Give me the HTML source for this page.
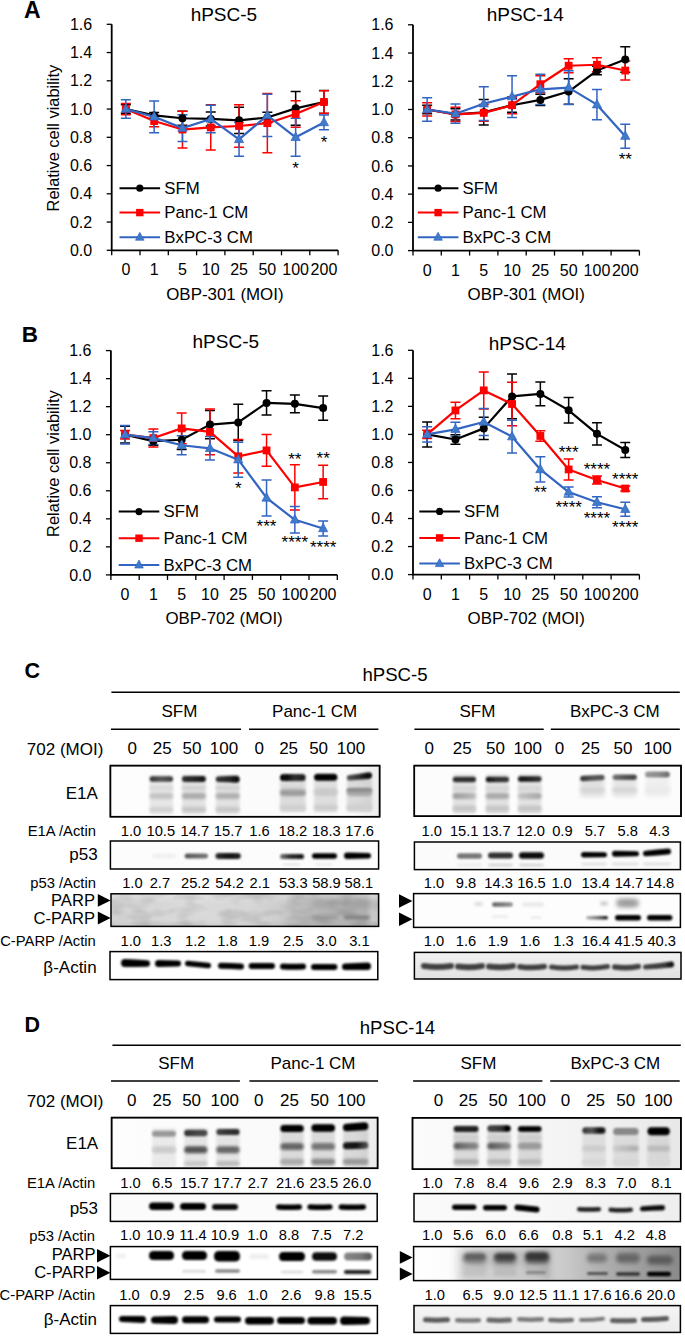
<!DOCTYPE html>
<html><head><meta charset="utf-8"><style>
html,body{margin:0;padding:0;background:#fff;}
svg{display:block;}
</style></head><body>
<svg width="685" height="1336" viewBox="0 0 685 1336" font-family="'Liberation Sans', sans-serif">
<defs><filter id="b5" x="-30%" y="-100%" width="160%" height="300%"><feGaussianBlur stdDeviation="0.5"/></filter><filter id="b6" x="-30%" y="-100%" width="160%" height="300%"><feGaussianBlur stdDeviation="0.6"/></filter><filter id="b7" x="-30%" y="-100%" width="160%" height="300%"><feGaussianBlur stdDeviation="0.7"/></filter><filter id="b8" x="-30%" y="-100%" width="160%" height="300%"><feGaussianBlur stdDeviation="0.8"/></filter><filter id="b9" x="-30%" y="-100%" width="160%" height="300%"><feGaussianBlur stdDeviation="0.9"/></filter><filter id="b10" x="-30%" y="-100%" width="160%" height="300%"><feGaussianBlur stdDeviation="1.0"/></filter><filter id="b11" x="-30%" y="-100%" width="160%" height="300%"><feGaussianBlur stdDeviation="1.1"/></filter><filter id="b12" x="-30%" y="-100%" width="160%" height="300%"><feGaussianBlur stdDeviation="1.2"/></filter><filter id="b13" x="-30%" y="-100%" width="160%" height="300%"><feGaussianBlur stdDeviation="1.3"/></filter><filter id="b14" x="-30%" y="-100%" width="160%" height="300%"><feGaussianBlur stdDeviation="1.4"/></filter><filter id="b15" x="-30%" y="-100%" width="160%" height="300%"><feGaussianBlur stdDeviation="1.5"/></filter><filter id="b16" x="-30%" y="-100%" width="160%" height="300%"><feGaussianBlur stdDeviation="1.6"/></filter><filter id="b17" x="-30%" y="-100%" width="160%" height="300%"><feGaussianBlur stdDeviation="1.7"/></filter><filter id="b18" x="-30%" y="-100%" width="160%" height="300%"><feGaussianBlur stdDeviation="1.8"/></filter><filter id="b19" x="-30%" y="-100%" width="160%" height="300%"><feGaussianBlur stdDeviation="1.9"/></filter><filter id="b20" x="-30%" y="-100%" width="160%" height="300%"><feGaussianBlur stdDeviation="2.0"/></filter><filter id="b21" x="-30%" y="-100%" width="160%" height="300%"><feGaussianBlur stdDeviation="2.1"/></filter><filter id="b22" x="-30%" y="-100%" width="160%" height="300%"><feGaussianBlur stdDeviation="2.2"/></filter><filter id="b23" x="-30%" y="-100%" width="160%" height="300%"><feGaussianBlur stdDeviation="2.3"/></filter><filter id="b24" x="-30%" y="-100%" width="160%" height="300%"><feGaussianBlur stdDeviation="2.4"/></filter><filter id="b25" x="-30%" y="-100%" width="160%" height="300%"><feGaussianBlur stdDeviation="2.5"/></filter><filter id="b26" x="-30%" y="-100%" width="160%" height="300%"><feGaussianBlur stdDeviation="2.6"/></filter><filter id="b27" x="-30%" y="-100%" width="160%" height="300%"><feGaussianBlur stdDeviation="2.7"/></filter><filter id="b28" x="-30%" y="-100%" width="160%" height="300%"><feGaussianBlur stdDeviation="2.8"/></filter><filter id="b29" x="-30%" y="-100%" width="160%" height="300%"><feGaussianBlur stdDeviation="2.9"/></filter><filter id="b30" x="-30%" y="-100%" width="160%" height="300%"><feGaussianBlur stdDeviation="3.0"/></filter>
<filter id="noiseA" x="0" y="0" width="1" height="1" filterUnits="objectBoundingBox"><feTurbulence type="fractalNoise" baseFrequency="0.045 0.09" numOctaves="2" seed="7" result="t"/><feColorMatrix in="t" type="matrix" values="0 0 0 0 0  0 0 0 0 0  0 0 0 0 0  0.28 0 0 0 -0.11"/></filter>
<linearGradient id="gParpC" x1="0" x2="1" y1="0" y2="0">
 <stop offset="0" stop-color="#d2d2d2"/><stop offset="0.3" stop-color="#dadada"/><stop offset="0.52" stop-color="#d6d6d6"/>
 <stop offset="0.66" stop-color="#cbcbcb"/><stop offset="0.85" stop-color="#c0c0c0"/><stop offset="0.95" stop-color="#bdbdbd"/><stop offset="0.975" stop-color="#d6d6d6"/><stop offset="1" stop-color="#cccccc"/>
</linearGradient>
<linearGradient id="gParpCv" x1="0" x2="0" y1="0" y2="1">
 <stop offset="0" stop-color="#fff" stop-opacity="0.25"/><stop offset="0.3" stop-color="#fff" stop-opacity="0"/><stop offset="0.8" stop-color="#000" stop-opacity="0"/><stop offset="1" stop-color="#000" stop-opacity="0.05"/>
</linearGradient>
<linearGradient id="gActC" x1="0" x2="0" y1="0" y2="1">
 <stop offset="0" stop-color="#f2f2f2"/><stop offset="1" stop-color="#e2e2e2"/>
</linearGradient>
<linearGradient id="gActD" x1="0" x2="0" y1="0" y2="1">
 <stop offset="0" stop-color="#f4f4f4"/><stop offset="1" stop-color="#ececec"/>
</linearGradient>
<linearGradient id="gP53D" x1="0" x2="1" y1="0" y2="0">
 <stop offset="0" stop-color="#fafafa"/><stop offset="0.5" stop-color="#f7f7f7"/><stop offset="1" stop-color="#eeeeee"/>
</linearGradient>
<linearGradient id="gE1ACL" x1="0" x2="1" y1="0" y2="0">
 <stop offset="0" stop-color="#fdfdfd"/><stop offset="0.9" stop-color="#fafafa"/><stop offset="1" stop-color="#ececec"/>
</linearGradient>
<linearGradient id="gE1ADL" x1="0" x2="1" y1="0" y2="0">
 <stop offset="0" stop-color="#fdfdfd"/><stop offset="0.9" stop-color="#f8f8f8"/><stop offset="1" stop-color="#eaeaea"/>
</linearGradient>
<linearGradient id="gE1AD" x1="0" x2="1" y1="0" y2="0">
 <stop offset="0" stop-color="#fbfbfb"/><stop offset="0.55" stop-color="#f4f4f4"/><stop offset="1" stop-color="#e8e8e8"/>
</linearGradient>
<linearGradient id="gParpD" x1="0" x2="1" y1="0" y2="0">
 <stop offset="0" stop-color="#ffffff"/><stop offset="0.13" stop-color="#fcfcfc"/><stop offset="0.2" stop-color="#e6e6e6"/>
 <stop offset="0.45" stop-color="#dedede"/><stop offset="0.5" stop-color="#d2d2d2"/><stop offset="0.58" stop-color="#c8c8c8"/>
 <stop offset="0.7" stop-color="#b0b0b0"/><stop offset="0.85" stop-color="#9e9e9e"/><stop offset="1" stop-color="#8a8a8a"/>
</linearGradient>
<clipPath id="cE1ACL"><rect x="111.00" y="766.30" width="268.00" height="49.70"/></clipPath><linearGradient id="g1" x1="0" x2="1" y1="0" y2="0"><stop offset="0" stop-color="#333"/><stop offset="0.5" stop-color="#555"/><stop offset="1" stop-color="#3a3a3a"/></linearGradient><linearGradient id="g2" x1="0" x2="1" y1="0" y2="0"><stop offset="0" stop-color="#333"/><stop offset="0.6" stop-color="#222"/><stop offset="1" stop-color="#111"/></linearGradient><linearGradient id="g3" x1="0" x2="1" y1="0" y2="0"><stop offset="0" stop-color="#333"/><stop offset="0.6" stop-color="#222"/><stop offset="1" stop-color="#000"/></linearGradient><linearGradient id="g4" x1="0" x2="1" y1="0" y2="0"><stop offset="0" stop-color="#000"/><stop offset="0.3" stop-color="#111"/><stop offset="0.6" stop-color="#333"/><stop offset="1" stop-color="#1a1a1a"/></linearGradient><linearGradient id="g5" x1="0" x2="1" y1="0" y2="0"><stop offset="0" stop-color="#555"/><stop offset="0.45" stop-color="#333"/><stop offset="0.75" stop-color="#111"/><stop offset="1" stop-color="#000"/></linearGradient><clipPath id="cE1ACR"><rect x="415.00" y="766.30" width="265.30" height="49.20"/></clipPath><linearGradient id="g6" x1="0" x2="1" y1="0" y2="0"><stop offset="0" stop-color="#111"/><stop offset="0.5" stop-color="#333"/><stop offset="1" stop-color="#3a3a3a"/></linearGradient><linearGradient id="g7" x1="0" x2="1" y1="0" y2="0"><stop offset="0" stop-color="#111"/><stop offset="0.5" stop-color="#222"/><stop offset="1" stop-color="#333"/></linearGradient><linearGradient id="g8" x1="0" x2="1" y1="0" y2="0"><stop offset="0" stop-color="#999"/><stop offset="1" stop-color="#bbb"/></linearGradient><linearGradient id="g9" x1="0" x2="1" y1="0" y2="0"><stop offset="0" stop-color="#c4c4c4"/><stop offset="1" stop-color="#a4a4a4"/></linearGradient><linearGradient id="g10" x1="0" x2="1" y1="0" y2="0"><stop offset="0" stop-color="#333"/><stop offset="0.5" stop-color="#555"/><stop offset="1" stop-color="#555"/></linearGradient><linearGradient id="g11" x1="0" x2="1" y1="0" y2="0"><stop offset="0" stop-color="#777"/><stop offset="0.5" stop-color="#555"/><stop offset="1" stop-color="#444"/></linearGradient><linearGradient id="g12" x1="0" x2="1" y1="0" y2="0"><stop offset="0" stop-color="#999"/><stop offset="0.6" stop-color="#888"/><stop offset="1" stop-color="#666"/></linearGradient><linearGradient id="g13" x1="0" x2="1" y1="0" y2="0"><stop offset="0" stop-color="#555"/><stop offset="0.5" stop-color="#666"/><stop offset="1" stop-color="#777"/></linearGradient><linearGradient id="g14" x1="0" x2="1" y1="0" y2="0"><stop offset="0" stop-color="#333"/><stop offset="0.5" stop-color="#111"/><stop offset="1" stop-color="#222"/></linearGradient><linearGradient id="g15" x1="0" x2="1" y1="0" y2="0"><stop offset="0" stop-color="#777"/><stop offset="0.4" stop-color="#333"/><stop offset="1" stop-color="#111"/></linearGradient><linearGradient id="g16" x1="0" x2="1" y1="0" y2="0"><stop offset="0" stop-color="#666"/><stop offset="0.5" stop-color="#777"/><stop offset="1" stop-color="#999"/></linearGradient><linearGradient id="g17" x1="0" x2="1" y1="0" y2="0"><stop offset="0" stop-color="#aaa"/><stop offset="0.5" stop-color="#999"/><stop offset="1" stop-color="#aaa"/></linearGradient><linearGradient id="g18" x1="0" x2="1" y1="0" y2="0"><stop offset="0" stop-color="#bbb"/><stop offset="0.5" stop-color="#777"/><stop offset="1" stop-color="#111"/></linearGradient><linearGradient id="g19" x1="0" x2="1" y1="0" y2="0"><stop offset="0" stop-color="#444"/><stop offset="0.7" stop-color="#3a3a3a"/><stop offset="1" stop-color="#000"/></linearGradient><clipPath id="cE1ADL"><rect x="112.30" y="1118.30" width="264.60" height="49.30"/></clipPath><linearGradient id="g20" x1="0" x2="1" y1="0" y2="0"><stop offset="0" stop-color="#333"/><stop offset="0.5" stop-color="#444"/><stop offset="1" stop-color="#4a4a4a"/></linearGradient><linearGradient id="g21" x1="0" x2="1" y1="0" y2="0"><stop offset="0" stop-color="#444"/><stop offset="0.5" stop-color="#333"/><stop offset="1" stop-color="#2a2a2a"/></linearGradient><linearGradient id="g22" x1="0" x2="1" y1="0" y2="0"><stop offset="0" stop-color="#111"/><stop offset="0.55" stop-color="#1a1a1a"/><stop offset="1" stop-color="#555"/></linearGradient><clipPath id="cE1ADR"><rect x="413.20" y="1118.50" width="267.00" height="50.00"/></clipPath><linearGradient id="g23" x1="0" x2="1" y1="0" y2="0"><stop offset="0" stop-color="#444"/><stop offset="0.6" stop-color="#333"/><stop offset="0.85" stop-color="#000"/><stop offset="1" stop-color="#000"/></linearGradient><linearGradient id="g24" x1="0" x2="1" y1="0" y2="0"><stop offset="0" stop-color="#555"/><stop offset="0.5" stop-color="#777"/><stop offset="1" stop-color="#888"/></linearGradient><linearGradient id="g25" x1="0" x2="1" y1="0" y2="0"><stop offset="0" stop-color="#555"/><stop offset="1" stop-color="#8a8a8a"/></linearGradient><linearGradient id="g26" x1="0" x2="1" y1="0" y2="0"><stop offset="0" stop-color="#333"/><stop offset="0.4" stop-color="#555"/><stop offset="0.75" stop-color="#111"/><stop offset="1" stop-color="#222"/></linearGradient><linearGradient id="g27" x1="0" x2="1" y1="0" y2="0"><stop offset="0" stop-color="#ccc"/><stop offset="1" stop-color="#aaa"/></linearGradient><linearGradient id="g28" x1="0" x2="1" y1="0" y2="0"><stop offset="0" stop-color="#888"/><stop offset="0.6" stop-color="#777"/><stop offset="1" stop-color="#555"/></linearGradient><clipPath id="cParpDR"><rect x="414.30" y="1247.30" width="265.40" height="32.60"/></clipPath></defs>
<rect width="685" height="1336" fill="#fff"/>
<text x="24.00" y="18.20" font-size="23" text-anchor="start" font-weight="bold" fill="#000" >A</text>
<path d="M111.70 24.30 V250.30 H338.10" fill="none" stroke="#000" stroke-width="1.8"/>
<line x1="106.70" y1="250.30" x2="111.70" y2="250.30" stroke="#000" stroke-width="1.3"/>
<text x="92.20" y="255.90" font-size="16" text-anchor="end" fill="#000" >0.0</text>
<line x1="106.70" y1="222.05" x2="111.70" y2="222.05" stroke="#000" stroke-width="1.3"/>
<text x="92.20" y="227.65" font-size="16" text-anchor="end" fill="#000" >0.2</text>
<line x1="106.70" y1="193.80" x2="111.70" y2="193.80" stroke="#000" stroke-width="1.3"/>
<text x="92.20" y="199.40" font-size="16" text-anchor="end" fill="#000" >0.4</text>
<line x1="106.70" y1="165.55" x2="111.70" y2="165.55" stroke="#000" stroke-width="1.3"/>
<text x="92.20" y="171.15" font-size="16" text-anchor="end" fill="#000" >0.6</text>
<line x1="106.70" y1="137.30" x2="111.70" y2="137.30" stroke="#000" stroke-width="1.3"/>
<text x="92.20" y="142.90" font-size="16" text-anchor="end" fill="#000" >0.8</text>
<line x1="106.70" y1="109.05" x2="111.70" y2="109.05" stroke="#000" stroke-width="1.3"/>
<text x="92.20" y="114.65" font-size="16" text-anchor="end" fill="#000" >1.0</text>
<line x1="106.70" y1="80.80" x2="111.70" y2="80.80" stroke="#000" stroke-width="1.3"/>
<text x="92.20" y="86.40" font-size="16" text-anchor="end" fill="#000" >1.2</text>
<line x1="106.70" y1="52.55" x2="111.70" y2="52.55" stroke="#000" stroke-width="1.3"/>
<text x="92.20" y="58.15" font-size="16" text-anchor="end" fill="#000" >1.4</text>
<line x1="106.70" y1="24.30" x2="111.70" y2="24.30" stroke="#000" stroke-width="1.3"/>
<text x="92.20" y="29.90" font-size="16" text-anchor="end" fill="#000" >1.6</text>
<line x1="111.70" y1="250.30" x2="111.70" y2="255.30" stroke="#000" stroke-width="1.3"/>
<line x1="140.00" y1="250.30" x2="140.00" y2="255.30" stroke="#000" stroke-width="1.3"/>
<line x1="168.30" y1="250.30" x2="168.30" y2="255.30" stroke="#000" stroke-width="1.3"/>
<line x1="196.60" y1="250.30" x2="196.60" y2="255.30" stroke="#000" stroke-width="1.3"/>
<line x1="224.90" y1="250.30" x2="224.90" y2="255.30" stroke="#000" stroke-width="1.3"/>
<line x1="253.20" y1="250.30" x2="253.20" y2="255.30" stroke="#000" stroke-width="1.3"/>
<line x1="281.50" y1="250.30" x2="281.50" y2="255.30" stroke="#000" stroke-width="1.3"/>
<line x1="309.80" y1="250.30" x2="309.80" y2="255.30" stroke="#000" stroke-width="1.3"/>
<line x1="338.10" y1="250.30" x2="338.10" y2="255.30" stroke="#000" stroke-width="1.3"/>
<text x="125.85" y="275.30" font-size="16" text-anchor="middle" fill="#000" >0</text>
<text x="154.15" y="275.30" font-size="16" text-anchor="middle" fill="#000" >1</text>
<text x="182.45" y="275.30" font-size="16" text-anchor="middle" fill="#000" >5</text>
<text x="210.75" y="275.30" font-size="16" text-anchor="middle" fill="#000" >10</text>
<text x="239.05" y="275.30" font-size="16" text-anchor="middle" fill="#000" >25</text>
<text x="267.35" y="275.30" font-size="16" text-anchor="middle" fill="#000" >50</text>
<text x="295.65" y="275.30" font-size="16" text-anchor="middle" fill="#000" >100</text>
<text x="323.95" y="275.30" font-size="16" text-anchor="middle" fill="#000" >200</text>
<text x="224.90" y="299.60" font-size="16.9" text-anchor="middle" fill="#000" >OBP-301 (MOI)</text>
<text x="223.90" y="21.00" font-size="19" text-anchor="middle" fill="#000" >hPSC-5</text>
<text x="0" y="0" font-size="16.4" text-anchor="middle" transform="translate(58.60,138.10) rotate(-90)">Relative cell viability</text>
<path d="M125.85 104.81 V113.29 M120.85 104.81 H130.85 M120.85 113.29 H130.85" stroke="#000000" stroke-width="1.5" fill="none"/>
<path d="M154.15 112.58 V118.23 M149.15 112.58 H159.15 M149.15 118.23 H159.15" stroke="#000000" stroke-width="1.5" fill="none"/>
<path d="M182.45 111.17 V125.29 M177.45 111.17 H187.45 M177.45 125.29 H187.45" stroke="#000000" stroke-width="1.5" fill="none"/>
<path d="M210.75 111.88 V126.00 M205.75 111.88 H215.75 M205.75 126.00 H215.75" stroke="#000000" stroke-width="1.5" fill="none"/>
<path d="M239.05 107.21 V133.49 M234.05 107.21 H244.05 M234.05 133.49 H244.05" stroke="#000000" stroke-width="1.5" fill="none"/>
<path d="M267.35 112.30 V122.75 M262.35 112.30 H272.35 M262.35 122.75 H272.35" stroke="#000000" stroke-width="1.5" fill="none"/>
<path d="M295.65 91.39 V125.29 M290.65 91.39 H300.65 M290.65 125.29 H300.65" stroke="#000000" stroke-width="1.5" fill="none"/>
<path d="M323.95 90.41 V113.57 M318.95 90.41 H328.95 M318.95 113.57 H328.95" stroke="#000000" stroke-width="1.5" fill="none"/>
<path d="M125.85 103.40 V114.70 M120.85 103.40 H130.85 M120.85 114.70 H130.85" stroke="#ff0000" stroke-width="1.5" fill="none"/>
<path d="M154.15 115.41 V126.71 M149.15 115.41 H159.15 M149.15 126.71 H159.15" stroke="#ff0000" stroke-width="1.5" fill="none"/>
<path d="M182.45 111.17 V147.89 M177.45 111.17 H187.45 M177.45 147.89 H187.45" stroke="#ff0000" stroke-width="1.5" fill="none"/>
<path d="M210.75 104.81 V150.01 M205.75 104.81 H215.75 M205.75 150.01 H215.75" stroke="#ff0000" stroke-width="1.5" fill="none"/>
<path d="M239.05 104.81 V147.19 M234.05 104.81 H244.05 M234.05 147.19 H244.05" stroke="#ff0000" stroke-width="1.5" fill="none"/>
<path d="M267.35 93.51 V152.84 M262.35 93.51 H272.35 M262.35 152.84 H272.35" stroke="#ff0000" stroke-width="1.5" fill="none"/>
<path d="M295.65 100.72 V127.27 M290.65 100.72 H300.65 M290.65 127.27 H300.65" stroke="#ff0000" stroke-width="1.5" fill="none"/>
<path d="M323.95 90.69 V113.29 M318.95 90.69 H328.95 M318.95 113.29 H328.95" stroke="#ff0000" stroke-width="1.5" fill="none"/>
<path d="M125.85 99.73 V118.37 M120.85 99.73 H130.85 M120.85 118.37 H130.85" stroke="#3264c2" stroke-width="1.5" fill="none"/>
<path d="M154.15 101.00 V132.64 M149.15 101.00 H159.15 M149.15 132.64 H159.15" stroke="#3264c2" stroke-width="1.5" fill="none"/>
<path d="M182.45 114.70 V141.54 M177.45 114.70 H187.45 M177.45 141.54 H187.45" stroke="#3264c2" stroke-width="1.5" fill="none"/>
<path d="M210.75 105.24 V132.64 M205.75 105.24 H215.75 M205.75 132.64 H215.75" stroke="#3264c2" stroke-width="1.5" fill="none"/>
<path d="M239.05 122.47 V156.37 M234.05 122.47 H244.05 M234.05 156.37 H244.05" stroke="#3264c2" stroke-width="1.5" fill="none"/>
<path d="M267.35 94.22 V136.59 M262.35 94.22 H272.35 M262.35 136.59 H272.35" stroke="#3264c2" stroke-width="1.5" fill="none"/>
<path d="M295.65 118.23 V156.37 M290.65 118.23 H300.65 M290.65 156.37 H300.65" stroke="#3264c2" stroke-width="1.5" fill="none"/>
<path d="M323.95 115.12 V129.81 M318.95 115.12 H328.95 M318.95 129.81 H328.95" stroke="#3264c2" stroke-width="1.5" fill="none"/>
<polyline points="125.85,109.05 154.15,115.41 182.45,118.23 210.75,118.94 239.05,120.35 267.35,117.53 295.65,108.34 323.95,101.99" fill="none" stroke="#000000" stroke-width="2.2" stroke-linejoin="round"/>
<circle cx="125.85" cy="109.05" r="4.0" fill="#000"/>
<circle cx="154.15" cy="115.41" r="4.0" fill="#000"/>
<circle cx="182.45" cy="118.23" r="4.0" fill="#000"/>
<circle cx="210.75" cy="118.94" r="4.0" fill="#000"/>
<circle cx="239.05" cy="120.35" r="4.0" fill="#000"/>
<circle cx="267.35" cy="117.53" r="4.0" fill="#000"/>
<circle cx="295.65" cy="108.34" r="4.0" fill="#000"/>
<circle cx="323.95" cy="101.99" r="4.0" fill="#000"/>
<polyline points="125.85,109.05 154.15,121.06 182.45,129.53 210.75,127.41 239.05,126.00 267.35,123.18 295.65,113.99 323.95,101.99" fill="none" stroke="#ff0000" stroke-width="2.2" stroke-linejoin="round"/>
<rect x="121.95" y="105.15" width="7.8" height="7.8" fill="#ff0000"/>
<rect x="150.25" y="117.16" width="7.8" height="7.8" fill="#ff0000"/>
<rect x="178.55" y="125.63" width="7.8" height="7.8" fill="#ff0000"/>
<rect x="206.85" y="123.51" width="7.8" height="7.8" fill="#ff0000"/>
<rect x="235.15" y="122.10" width="7.8" height="7.8" fill="#ff0000"/>
<rect x="263.45" y="119.28" width="7.8" height="7.8" fill="#ff0000"/>
<rect x="291.75" y="110.09" width="7.8" height="7.8" fill="#ff0000"/>
<rect x="320.05" y="98.09" width="7.8" height="7.8" fill="#ff0000"/>
<polyline points="125.85,109.05 154.15,116.82 182.45,128.12 210.75,118.94 239.05,139.42 267.35,115.41 295.65,137.30 323.95,122.47" fill="none" stroke="#3264c2" stroke-width="2.2" stroke-linejoin="round"/>
<path d="M125.85 103.80 L130.45 112.27 L121.25 112.27 Z" fill="#3f7bc9" stroke="#3264c2" stroke-width="0.7" stroke-linejoin="round"/>
<path d="M154.15 111.57 L158.75 120.04 L149.55 120.04 Z" fill="#3f7bc9" stroke="#3264c2" stroke-width="0.7" stroke-linejoin="round"/>
<path d="M182.45 122.87 L187.05 131.34 L177.85 131.34 Z" fill="#3f7bc9" stroke="#3264c2" stroke-width="0.7" stroke-linejoin="round"/>
<path d="M210.75 113.69 L215.35 122.15 L206.15 122.15 Z" fill="#3f7bc9" stroke="#3264c2" stroke-width="0.7" stroke-linejoin="round"/>
<path d="M239.05 134.17 L243.65 142.64 L234.45 142.64 Z" fill="#3f7bc9" stroke="#3264c2" stroke-width="0.7" stroke-linejoin="round"/>
<path d="M267.35 110.16 L271.95 118.62 L262.75 118.62 Z" fill="#3f7bc9" stroke="#3264c2" stroke-width="0.7" stroke-linejoin="round"/>
<path d="M295.65 132.05 L300.25 140.52 L291.05 140.52 Z" fill="#3f7bc9" stroke="#3264c2" stroke-width="0.7" stroke-linejoin="round"/>
<path d="M323.95 117.22 L328.55 125.69 L319.35 125.69 Z" fill="#3f7bc9" stroke="#3264c2" stroke-width="0.7" stroke-linejoin="round"/>
<line x1="119.50" y1="188.20" x2="160.10" y2="188.20" stroke="#000000" stroke-width="2"/>
<circle cx="139.80" cy="188.20" r="3.6" fill="#000"/>
<text x="164.30" y="193.80" font-size="16.8" text-anchor="start" fill="#000" >SFM</text>
<line x1="119.50" y1="212.60" x2="160.10" y2="212.60" stroke="#ff0000" stroke-width="2"/>
<rect x="136.10" y="208.90" width="7.4" height="7.4" fill="#ff0000"/>
<text x="164.30" y="218.20" font-size="16.8" text-anchor="start" fill="#000" >Panc-1 CM</text>
<line x1="119.50" y1="237.20" x2="160.10" y2="237.20" stroke="#3264c2" stroke-width="2"/>
<path d="M139.80 232.29 L144.10 240.21 L135.50 240.21 Z" fill="#3f7bc9" stroke="#3264c2" stroke-width="0.7" stroke-linejoin="round"/>
<text x="164.30" y="242.80" font-size="16.8" text-anchor="start" fill="#000" >BxPC-3 CM</text>
<text x="295.65" y="173.70" font-size="17" text-anchor="middle" fill="#000" >*</text>
<text x="323.95" y="147.80" font-size="17" text-anchor="middle" fill="#000" >*</text>
<path d="M413.00 24.80 V250.60 H639.40" fill="none" stroke="#000" stroke-width="1.8"/>
<line x1="408.00" y1="250.60" x2="413.00" y2="250.60" stroke="#000" stroke-width="1.3"/>
<text x="393.50" y="256.20" font-size="16" text-anchor="end" fill="#000" >0.0</text>
<line x1="408.00" y1="222.38" x2="413.00" y2="222.38" stroke="#000" stroke-width="1.3"/>
<text x="393.50" y="227.97" font-size="16" text-anchor="end" fill="#000" >0.2</text>
<line x1="408.00" y1="194.15" x2="413.00" y2="194.15" stroke="#000" stroke-width="1.3"/>
<text x="393.50" y="199.75" font-size="16" text-anchor="end" fill="#000" >0.4</text>
<line x1="408.00" y1="165.93" x2="413.00" y2="165.93" stroke="#000" stroke-width="1.3"/>
<text x="393.50" y="171.53" font-size="16" text-anchor="end" fill="#000" >0.6</text>
<line x1="408.00" y1="137.70" x2="413.00" y2="137.70" stroke="#000" stroke-width="1.3"/>
<text x="393.50" y="143.30" font-size="16" text-anchor="end" fill="#000" >0.8</text>
<line x1="408.00" y1="109.48" x2="413.00" y2="109.48" stroke="#000" stroke-width="1.3"/>
<text x="393.50" y="115.08" font-size="16" text-anchor="end" fill="#000" >1.0</text>
<line x1="408.00" y1="81.25" x2="413.00" y2="81.25" stroke="#000" stroke-width="1.3"/>
<text x="393.50" y="86.85" font-size="16" text-anchor="end" fill="#000" >1.2</text>
<line x1="408.00" y1="53.03" x2="413.00" y2="53.03" stroke="#000" stroke-width="1.3"/>
<text x="393.50" y="58.63" font-size="16" text-anchor="end" fill="#000" >1.4</text>
<line x1="408.00" y1="24.80" x2="413.00" y2="24.80" stroke="#000" stroke-width="1.3"/>
<text x="393.50" y="30.40" font-size="16" text-anchor="end" fill="#000" >1.6</text>
<line x1="413.00" y1="250.60" x2="413.00" y2="255.60" stroke="#000" stroke-width="1.3"/>
<line x1="441.30" y1="250.60" x2="441.30" y2="255.60" stroke="#000" stroke-width="1.3"/>
<line x1="469.60" y1="250.60" x2="469.60" y2="255.60" stroke="#000" stroke-width="1.3"/>
<line x1="497.90" y1="250.60" x2="497.90" y2="255.60" stroke="#000" stroke-width="1.3"/>
<line x1="526.20" y1="250.60" x2="526.20" y2="255.60" stroke="#000" stroke-width="1.3"/>
<line x1="554.50" y1="250.60" x2="554.50" y2="255.60" stroke="#000" stroke-width="1.3"/>
<line x1="582.80" y1="250.60" x2="582.80" y2="255.60" stroke="#000" stroke-width="1.3"/>
<line x1="611.10" y1="250.60" x2="611.10" y2="255.60" stroke="#000" stroke-width="1.3"/>
<line x1="639.40" y1="250.60" x2="639.40" y2="255.60" stroke="#000" stroke-width="1.3"/>
<text x="427.15" y="275.60" font-size="16" text-anchor="middle" fill="#000" >0</text>
<text x="455.45" y="275.60" font-size="16" text-anchor="middle" fill="#000" >1</text>
<text x="483.75" y="275.60" font-size="16" text-anchor="middle" fill="#000" >5</text>
<text x="512.05" y="275.60" font-size="16" text-anchor="middle" fill="#000" >10</text>
<text x="540.35" y="275.60" font-size="16" text-anchor="middle" fill="#000" >25</text>
<text x="568.65" y="275.60" font-size="16" text-anchor="middle" fill="#000" >50</text>
<text x="596.95" y="275.60" font-size="16" text-anchor="middle" fill="#000" >100</text>
<text x="625.25" y="275.60" font-size="16" text-anchor="middle" fill="#000" >200</text>
<text x="526.20" y="299.90" font-size="16.9" text-anchor="middle" fill="#000" >OBP-301 (MOI)</text>
<text x="525.20" y="20.80" font-size="19" text-anchor="middle" fill="#000" >hPSC-14</text>
<path d="M427.15 105.24 V113.71 M422.15 105.24 H432.15 M422.15 113.71 H432.15" stroke="#000000" stroke-width="1.5" fill="none"/>
<path d="M455.45 108.77 V120.06 M450.45 108.77 H460.45 M450.45 120.06 H460.45" stroke="#000000" stroke-width="1.5" fill="none"/>
<path d="M483.75 99.60 V125.00 M478.75 99.60 H488.75 M478.75 125.00 H488.75" stroke="#000000" stroke-width="1.5" fill="none"/>
<path d="M512.05 98.19 V112.30 M507.05 98.19 H517.05 M507.05 112.30 H517.05" stroke="#000000" stroke-width="1.5" fill="none"/>
<path d="M540.35 94.23 V105.52 M535.35 94.23 H545.35 M535.35 105.52 H545.35" stroke="#000000" stroke-width="1.5" fill="none"/>
<path d="M568.65 78.85 V104.25 M563.65 78.85 H573.65 M563.65 104.25 H573.65" stroke="#000000" stroke-width="1.5" fill="none"/>
<path d="M596.95 66.29 V74.76 M591.95 66.29 H601.95 M591.95 74.76 H601.95" stroke="#000000" stroke-width="1.5" fill="none"/>
<path d="M625.25 46.82 V72.22 M620.25 46.82 H630.25 M620.25 72.22 H630.25" stroke="#000000" stroke-width="1.5" fill="none"/>
<path d="M427.15 102.84 V116.11 M422.15 102.84 H432.15 M422.15 116.11 H432.15" stroke="#ff0000" stroke-width="1.5" fill="none"/>
<path d="M455.45 107.36 V121.47 M450.45 107.36 H460.45 M450.45 121.47 H460.45" stroke="#ff0000" stroke-width="1.5" fill="none"/>
<path d="M483.75 104.39 V121.33 M478.75 104.39 H488.75 M478.75 121.33 H488.75" stroke="#ff0000" stroke-width="1.5" fill="none"/>
<path d="M512.05 96.77 V113.71 M507.05 96.77 H517.05 M507.05 113.71 H517.05" stroke="#ff0000" stroke-width="1.5" fill="none"/>
<path d="M540.35 75.75 V92.68 M535.35 75.75 H545.35 M535.35 92.68 H545.35" stroke="#ff0000" stroke-width="1.5" fill="none"/>
<path d="M568.65 58.67 V72.78 M563.65 58.67 H573.65 M563.65 72.78 H573.65" stroke="#ff0000" stroke-width="1.5" fill="none"/>
<path d="M596.95 57.68 V71.79 M591.95 57.68 H601.95 M591.95 71.79 H601.95" stroke="#ff0000" stroke-width="1.5" fill="none"/>
<path d="M625.25 60.93 V80.12 M620.25 60.93 H630.25 M620.25 80.12 H630.25" stroke="#ff0000" stroke-width="1.5" fill="none"/>
<path d="M427.15 97.76 V121.19 M422.15 97.76 H432.15 M422.15 121.19 H432.15" stroke="#3264c2" stroke-width="1.5" fill="none"/>
<path d="M455.45 104.11 V123.31 M450.45 104.11 H460.45 M450.45 123.31 H460.45" stroke="#3264c2" stroke-width="1.5" fill="none"/>
<path d="M483.75 86.75 V120.62 M478.75 86.75 H488.75 M478.75 120.62 H488.75" stroke="#3264c2" stroke-width="1.5" fill="none"/>
<path d="M512.05 75.75 V117.52 M507.05 75.75 H517.05 M507.05 117.52 H517.05" stroke="#3264c2" stroke-width="1.5" fill="none"/>
<path d="M540.35 74.19 V104.39 M535.35 74.19 H545.35 M535.35 104.39 H545.35" stroke="#3264c2" stroke-width="1.5" fill="none"/>
<path d="M568.65 70.67 V104.54 M563.65 70.67 H573.65 M563.65 104.54 H573.65" stroke="#3264c2" stroke-width="1.5" fill="none"/>
<path d="M596.95 89.58 V119.78 M591.95 89.58 H601.95 M591.95 119.78 H601.95" stroke="#3264c2" stroke-width="1.5" fill="none"/>
<path d="M625.25 124.15 V148.14 M620.25 124.15 H630.25 M620.25 148.14 H630.25" stroke="#3264c2" stroke-width="1.5" fill="none"/>
<polyline points="427.15,109.48 455.45,114.41 483.75,112.30 512.05,105.24 540.35,99.88 568.65,91.55 596.95,70.52 625.25,59.52" fill="none" stroke="#000000" stroke-width="2.2" stroke-linejoin="round"/>
<circle cx="427.15" cy="109.48" r="4.0" fill="#000"/>
<circle cx="455.45" cy="114.41" r="4.0" fill="#000"/>
<circle cx="483.75" cy="112.30" r="4.0" fill="#000"/>
<circle cx="512.05" cy="105.24" r="4.0" fill="#000"/>
<circle cx="540.35" cy="99.88" r="4.0" fill="#000"/>
<circle cx="568.65" cy="91.55" r="4.0" fill="#000"/>
<circle cx="596.95" cy="70.52" r="4.0" fill="#000"/>
<circle cx="625.25" cy="59.52" r="4.0" fill="#000"/>
<polyline points="427.15,109.48 455.45,114.41 483.75,112.86 512.05,105.24 540.35,84.21 568.65,65.73 596.95,64.74 625.25,70.52" fill="none" stroke="#ff0000" stroke-width="2.2" stroke-linejoin="round"/>
<rect x="423.25" y="105.58" width="7.8" height="7.8" fill="#ff0000"/>
<rect x="451.55" y="110.51" width="7.8" height="7.8" fill="#ff0000"/>
<rect x="479.85" y="108.96" width="7.8" height="7.8" fill="#ff0000"/>
<rect x="508.15" y="101.34" width="7.8" height="7.8" fill="#ff0000"/>
<rect x="536.45" y="80.31" width="7.8" height="7.8" fill="#ff0000"/>
<rect x="564.75" y="61.83" width="7.8" height="7.8" fill="#ff0000"/>
<rect x="593.05" y="60.84" width="7.8" height="7.8" fill="#ff0000"/>
<rect x="621.35" y="66.62" width="7.8" height="7.8" fill="#ff0000"/>
<polyline points="427.15,109.48 455.45,113.71 483.75,103.69 512.05,96.63 540.35,89.29 568.65,87.60 596.95,104.68 625.25,136.15" fill="none" stroke="#3264c2" stroke-width="2.2" stroke-linejoin="round"/>
<path d="M427.15 104.23 L431.75 112.69 L422.55 112.69 Z" fill="#3f7bc9" stroke="#3264c2" stroke-width="0.7" stroke-linejoin="round"/>
<path d="M455.45 108.46 L460.05 116.93 L450.85 116.93 Z" fill="#3f7bc9" stroke="#3264c2" stroke-width="0.7" stroke-linejoin="round"/>
<path d="M483.75 98.44 L488.35 106.91 L479.15 106.91 Z" fill="#3f7bc9" stroke="#3264c2" stroke-width="0.7" stroke-linejoin="round"/>
<path d="M512.05 91.38 L516.65 99.85 L507.45 99.85 Z" fill="#3f7bc9" stroke="#3264c2" stroke-width="0.7" stroke-linejoin="round"/>
<path d="M540.35 84.05 L544.95 92.51 L535.75 92.51 Z" fill="#3f7bc9" stroke="#3264c2" stroke-width="0.7" stroke-linejoin="round"/>
<path d="M568.65 82.35 L573.25 90.82 L564.05 90.82 Z" fill="#3f7bc9" stroke="#3264c2" stroke-width="0.7" stroke-linejoin="round"/>
<path d="M596.95 99.43 L601.55 107.89 L592.35 107.89 Z" fill="#3f7bc9" stroke="#3264c2" stroke-width="0.7" stroke-linejoin="round"/>
<path d="M625.25 130.90 L629.85 139.36 L620.65 139.36 Z" fill="#3f7bc9" stroke="#3264c2" stroke-width="0.7" stroke-linejoin="round"/>
<line x1="417.80" y1="188.20" x2="458.40" y2="188.20" stroke="#000000" stroke-width="2"/>
<circle cx="438.10" cy="188.20" r="3.6" fill="#000"/>
<text x="462.60" y="193.80" font-size="16.8" text-anchor="start" fill="#000" >SFM</text>
<line x1="417.80" y1="212.60" x2="458.40" y2="212.60" stroke="#ff0000" stroke-width="2"/>
<rect x="434.40" y="208.90" width="7.4" height="7.4" fill="#ff0000"/>
<text x="462.60" y="218.20" font-size="16.8" text-anchor="start" fill="#000" >Panc-1 CM</text>
<line x1="417.80" y1="237.20" x2="458.40" y2="237.20" stroke="#3264c2" stroke-width="2"/>
<path d="M438.10 232.29 L442.40 240.21 L433.80 240.21 Z" fill="#3f7bc9" stroke="#3264c2" stroke-width="0.7" stroke-linejoin="round"/>
<text x="462.60" y="242.80" font-size="16.8" text-anchor="start" fill="#000" >BxPC-3 CM</text>
<text x="625.25" y="164.50" font-size="17" text-anchor="middle" fill="#000" >**</text>
<text x="21.80" y="342.20" font-size="22.5" text-anchor="start" font-weight="bold" fill="#000" >B</text>
<path d="M110.90 350.60 V574.90 H337.30" fill="none" stroke="#000" stroke-width="1.8"/>
<line x1="105.90" y1="574.90" x2="110.90" y2="574.90" stroke="#000" stroke-width="1.3"/>
<text x="91.40" y="580.50" font-size="16" text-anchor="end" fill="#000" >0.0</text>
<line x1="105.90" y1="546.86" x2="110.90" y2="546.86" stroke="#000" stroke-width="1.3"/>
<text x="91.40" y="552.46" font-size="16" text-anchor="end" fill="#000" >0.2</text>
<line x1="105.90" y1="518.83" x2="110.90" y2="518.83" stroke="#000" stroke-width="1.3"/>
<text x="91.40" y="524.43" font-size="16" text-anchor="end" fill="#000" >0.4</text>
<line x1="105.90" y1="490.79" x2="110.90" y2="490.79" stroke="#000" stroke-width="1.3"/>
<text x="91.40" y="496.39" font-size="16" text-anchor="end" fill="#000" >0.6</text>
<line x1="105.90" y1="462.75" x2="110.90" y2="462.75" stroke="#000" stroke-width="1.3"/>
<text x="91.40" y="468.35" font-size="16" text-anchor="end" fill="#000" >0.8</text>
<line x1="105.90" y1="434.71" x2="110.90" y2="434.71" stroke="#000" stroke-width="1.3"/>
<text x="91.40" y="440.31" font-size="16" text-anchor="end" fill="#000" >1.0</text>
<line x1="105.90" y1="406.67" x2="110.90" y2="406.67" stroke="#000" stroke-width="1.3"/>
<text x="91.40" y="412.27" font-size="16" text-anchor="end" fill="#000" >1.2</text>
<line x1="105.90" y1="378.64" x2="110.90" y2="378.64" stroke="#000" stroke-width="1.3"/>
<text x="91.40" y="384.24" font-size="16" text-anchor="end" fill="#000" >1.4</text>
<line x1="105.90" y1="350.60" x2="110.90" y2="350.60" stroke="#000" stroke-width="1.3"/>
<text x="91.40" y="356.20" font-size="16" text-anchor="end" fill="#000" >1.6</text>
<line x1="110.90" y1="574.90" x2="110.90" y2="579.90" stroke="#000" stroke-width="1.3"/>
<line x1="139.20" y1="574.90" x2="139.20" y2="579.90" stroke="#000" stroke-width="1.3"/>
<line x1="167.50" y1="574.90" x2="167.50" y2="579.90" stroke="#000" stroke-width="1.3"/>
<line x1="195.80" y1="574.90" x2="195.80" y2="579.90" stroke="#000" stroke-width="1.3"/>
<line x1="224.10" y1="574.90" x2="224.10" y2="579.90" stroke="#000" stroke-width="1.3"/>
<line x1="252.40" y1="574.90" x2="252.40" y2="579.90" stroke="#000" stroke-width="1.3"/>
<line x1="280.70" y1="574.90" x2="280.70" y2="579.90" stroke="#000" stroke-width="1.3"/>
<line x1="309.00" y1="574.90" x2="309.00" y2="579.90" stroke="#000" stroke-width="1.3"/>
<line x1="337.30" y1="574.90" x2="337.30" y2="579.90" stroke="#000" stroke-width="1.3"/>
<text x="125.05" y="599.80" font-size="16" text-anchor="middle" fill="#000" >0</text>
<text x="153.35" y="599.80" font-size="16" text-anchor="middle" fill="#000" >1</text>
<text x="181.65" y="599.80" font-size="16" text-anchor="middle" fill="#000" >5</text>
<text x="209.95" y="599.80" font-size="16" text-anchor="middle" fill="#000" >10</text>
<text x="238.25" y="599.80" font-size="16" text-anchor="middle" fill="#000" >25</text>
<text x="266.55" y="599.80" font-size="16" text-anchor="middle" fill="#000" >50</text>
<text x="294.85" y="599.80" font-size="16" text-anchor="middle" fill="#000" >100</text>
<text x="323.15" y="599.80" font-size="16" text-anchor="middle" fill="#000" >200</text>
<text x="224.10" y="623.90" font-size="16.9" text-anchor="middle" fill="#000" >OBP-702 (MOI)</text>
<text x="225.80" y="347.80" font-size="19" text-anchor="middle" fill="#000" >hPSC-5</text>
<text x="0" y="0" font-size="16.4" text-anchor="middle" transform="translate(58.60,463.55) rotate(-90)">Relative cell viability</text>
<path d="M125.05 426.30 V443.12 M120.05 426.30 H130.05 M120.05 443.12 H130.05" stroke="#000000" stroke-width="1.5" fill="none"/>
<path d="M153.35 436.96 V445.37 M148.35 436.96 H158.35 M148.35 445.37 H158.35" stroke="#000000" stroke-width="1.5" fill="none"/>
<path d="M181.65 429.95 V449.57 M176.65 429.95 H186.65 M176.65 449.57 H186.65" stroke="#000000" stroke-width="1.5" fill="none"/>
<path d="M209.95 410.60 V438.64 M204.95 410.60 H214.95 M204.95 438.64 H214.95" stroke="#000000" stroke-width="1.5" fill="none"/>
<path d="M238.25 404.15 V440.60 M233.25 404.15 H243.25 M233.25 440.60 H243.25" stroke="#000000" stroke-width="1.5" fill="none"/>
<path d="M266.55 390.69 V415.09 M261.55 390.69 H271.55 M261.55 415.09 H271.55" stroke="#000000" stroke-width="1.5" fill="none"/>
<path d="M294.85 394.90 V412.84 M289.85 394.90 H299.85 M289.85 412.84 H299.85" stroke="#000000" stroke-width="1.5" fill="none"/>
<path d="M323.15 396.02 V420.13 M318.15 396.02 H328.15 M318.15 420.13 H328.15" stroke="#000000" stroke-width="1.5" fill="none"/>
<path d="M125.05 430.51 V438.92 M120.05 430.51 H130.05 M120.05 438.92 H130.05" stroke="#ff0000" stroke-width="1.5" fill="none"/>
<path d="M153.35 429.11 V447.05 M148.35 429.11 H158.35 M148.35 447.05 H158.35" stroke="#ff0000" stroke-width="1.5" fill="none"/>
<path d="M181.65 412.98 V443.82 M176.65 412.98 H186.65 M176.65 443.82 H186.65" stroke="#ff0000" stroke-width="1.5" fill="none"/>
<path d="M209.95 409.06 V454.76 M204.95 409.06 H214.95 M204.95 454.76 H214.95" stroke="#ff0000" stroke-width="1.5" fill="none"/>
<path d="M238.25 439.48 V473.12 M233.25 439.48 H243.25 M233.25 473.12 H243.25" stroke="#ff0000" stroke-width="1.5" fill="none"/>
<path d="M266.55 434.57 V466.25 M261.55 434.57 H271.55 M261.55 466.25 H271.55" stroke="#ff0000" stroke-width="1.5" fill="none"/>
<path d="M294.85 464.85 V509.99 M289.85 464.85 H299.85 M289.85 509.99 H299.85" stroke="#ff0000" stroke-width="1.5" fill="none"/>
<path d="M323.15 465.27 V498.64 M318.15 465.27 H328.15 M318.15 498.64 H328.15" stroke="#ff0000" stroke-width="1.5" fill="none"/>
<path d="M125.05 425.46 V443.96 M120.05 425.46 H130.05 M120.05 443.96 H130.05" stroke="#3264c2" stroke-width="1.5" fill="none"/>
<path d="M153.35 431.63 V444.53 M148.35 431.63 H158.35 M148.35 444.53 H158.35" stroke="#3264c2" stroke-width="1.5" fill="none"/>
<path d="M181.65 435.69 V454.76 M176.65 435.69 H186.65 M176.65 454.76 H186.65" stroke="#3264c2" stroke-width="1.5" fill="none"/>
<path d="M209.95 436.53 V460.09 M204.95 436.53 H214.95 M204.95 460.09 H214.95" stroke="#3264c2" stroke-width="1.5" fill="none"/>
<path d="M238.25 442.14 V477.19 M233.25 442.14 H243.25 M233.25 477.19 H243.25" stroke="#3264c2" stroke-width="1.5" fill="none"/>
<path d="M266.55 479.99 V515.88 M261.55 479.99 H271.55 M261.55 515.88 H271.55" stroke="#3264c2" stroke-width="1.5" fill="none"/>
<path d="M294.85 506.49 V533.12 M289.85 506.49 H299.85 M289.85 533.12 H299.85" stroke="#3264c2" stroke-width="1.5" fill="none"/>
<path d="M323.15 520.93 V536.07 M318.15 520.93 H328.15 M318.15 536.07 H328.15" stroke="#3264c2" stroke-width="1.5" fill="none"/>
<polyline points="125.05,434.71 153.35,441.16 181.65,439.76 209.95,424.62 238.25,422.38 266.55,402.89 294.85,403.87 323.15,408.08" fill="none" stroke="#000000" stroke-width="2.2" stroke-linejoin="round"/>
<circle cx="125.05" cy="434.71" r="4.0" fill="#000"/>
<circle cx="153.35" cy="441.16" r="4.0" fill="#000"/>
<circle cx="181.65" cy="439.76" r="4.0" fill="#000"/>
<circle cx="209.95" cy="424.62" r="4.0" fill="#000"/>
<circle cx="238.25" cy="422.38" r="4.0" fill="#000"/>
<circle cx="266.55" cy="402.89" r="4.0" fill="#000"/>
<circle cx="294.85" cy="403.87" r="4.0" fill="#000"/>
<circle cx="323.15" cy="408.08" r="4.0" fill="#000"/>
<polyline points="125.05,434.71 153.35,438.08 181.65,428.40 209.95,431.91 238.25,456.30 266.55,450.41 294.85,487.42 323.15,481.96" fill="none" stroke="#ff0000" stroke-width="2.2" stroke-linejoin="round"/>
<rect x="121.15" y="430.81" width="7.8" height="7.8" fill="#ff0000"/>
<rect x="149.45" y="434.18" width="7.8" height="7.8" fill="#ff0000"/>
<rect x="177.75" y="424.50" width="7.8" height="7.8" fill="#ff0000"/>
<rect x="206.05" y="428.01" width="7.8" height="7.8" fill="#ff0000"/>
<rect x="234.35" y="452.40" width="7.8" height="7.8" fill="#ff0000"/>
<rect x="262.65" y="446.51" width="7.8" height="7.8" fill="#ff0000"/>
<rect x="290.95" y="483.52" width="7.8" height="7.8" fill="#ff0000"/>
<rect x="319.25" y="478.06" width="7.8" height="7.8" fill="#ff0000"/>
<polyline points="125.05,434.71 153.35,438.08 181.65,445.23 209.95,448.31 238.25,459.67 266.55,497.94 294.85,519.81 323.15,528.50" fill="none" stroke="#3264c2" stroke-width="2.2" stroke-linejoin="round"/>
<path d="M125.05 429.46 L129.65 437.93 L120.45 437.93 Z" fill="#3f7bc9" stroke="#3264c2" stroke-width="0.7" stroke-linejoin="round"/>
<path d="M153.35 432.83 L157.95 441.29 L148.75 441.29 Z" fill="#3f7bc9" stroke="#3264c2" stroke-width="0.7" stroke-linejoin="round"/>
<path d="M181.65 439.98 L186.25 448.44 L177.05 448.44 Z" fill="#3f7bc9" stroke="#3264c2" stroke-width="0.7" stroke-linejoin="round"/>
<path d="M209.95 443.06 L214.55 451.53 L205.35 451.53 Z" fill="#3f7bc9" stroke="#3264c2" stroke-width="0.7" stroke-linejoin="round"/>
<path d="M238.25 454.42 L242.85 462.88 L233.65 462.88 Z" fill="#3f7bc9" stroke="#3264c2" stroke-width="0.7" stroke-linejoin="round"/>
<path d="M266.55 492.69 L271.15 501.15 L261.95 501.15 Z" fill="#3f7bc9" stroke="#3264c2" stroke-width="0.7" stroke-linejoin="round"/>
<path d="M294.85 514.56 L299.45 523.02 L290.25 523.02 Z" fill="#3f7bc9" stroke="#3264c2" stroke-width="0.7" stroke-linejoin="round"/>
<path d="M323.15 523.25 L327.75 531.71 L318.55 531.71 Z" fill="#3f7bc9" stroke="#3264c2" stroke-width="0.7" stroke-linejoin="round"/>
<line x1="118.70" y1="511.60" x2="159.30" y2="511.60" stroke="#000000" stroke-width="2"/>
<circle cx="139.00" cy="511.60" r="3.6" fill="#000"/>
<text x="163.50" y="517.20" font-size="16.8" text-anchor="start" fill="#000" >SFM</text>
<line x1="118.70" y1="538.20" x2="159.30" y2="538.20" stroke="#ff0000" stroke-width="2"/>
<rect x="135.30" y="534.50" width="7.4" height="7.4" fill="#ff0000"/>
<text x="163.50" y="543.80" font-size="16.8" text-anchor="start" fill="#000" >Panc-1 CM</text>
<line x1="118.70" y1="565.00" x2="159.30" y2="565.00" stroke="#3264c2" stroke-width="2"/>
<path d="M139.00 560.09 L143.30 568.01 L134.70 568.01 Z" fill="#3f7bc9" stroke="#3264c2" stroke-width="0.7" stroke-linejoin="round"/>
<text x="163.50" y="570.60" font-size="16.8" text-anchor="start" fill="#000" >BxPC-3 CM</text>
<text x="238.25" y="494.00" font-size="17" text-anchor="middle" fill="#000" >*</text>
<text x="266.55" y="532.00" font-size="17" text-anchor="middle" fill="#000" >***</text>
<text x="294.85" y="464.80" font-size="17" text-anchor="middle" fill="#000" >**</text>
<text x="294.85" y="548.30" font-size="17" text-anchor="middle" fill="#000" >****</text>
<text x="323.15" y="464.40" font-size="17" text-anchor="middle" fill="#000" >**</text>
<text x="323.15" y="553.30" font-size="17" text-anchor="middle" fill="#000" >****</text>
<path d="M413.00 350.30 V574.60 H639.40" fill="none" stroke="#000" stroke-width="1.8"/>
<line x1="408.00" y1="574.60" x2="413.00" y2="574.60" stroke="#000" stroke-width="1.3"/>
<text x="393.50" y="580.20" font-size="16" text-anchor="end" fill="#000" >0.0</text>
<line x1="408.00" y1="546.56" x2="413.00" y2="546.56" stroke="#000" stroke-width="1.3"/>
<text x="393.50" y="552.16" font-size="16" text-anchor="end" fill="#000" >0.2</text>
<line x1="408.00" y1="518.52" x2="413.00" y2="518.52" stroke="#000" stroke-width="1.3"/>
<text x="393.50" y="524.12" font-size="16" text-anchor="end" fill="#000" >0.4</text>
<line x1="408.00" y1="490.49" x2="413.00" y2="490.49" stroke="#000" stroke-width="1.3"/>
<text x="393.50" y="496.09" font-size="16" text-anchor="end" fill="#000" >0.6</text>
<line x1="408.00" y1="462.45" x2="413.00" y2="462.45" stroke="#000" stroke-width="1.3"/>
<text x="393.50" y="468.05" font-size="16" text-anchor="end" fill="#000" >0.8</text>
<line x1="408.00" y1="434.41" x2="413.00" y2="434.41" stroke="#000" stroke-width="1.3"/>
<text x="393.50" y="440.01" font-size="16" text-anchor="end" fill="#000" >1.0</text>
<line x1="408.00" y1="406.38" x2="413.00" y2="406.38" stroke="#000" stroke-width="1.3"/>
<text x="393.50" y="411.98" font-size="16" text-anchor="end" fill="#000" >1.2</text>
<line x1="408.00" y1="378.34" x2="413.00" y2="378.34" stroke="#000" stroke-width="1.3"/>
<text x="393.50" y="383.94" font-size="16" text-anchor="end" fill="#000" >1.4</text>
<line x1="408.00" y1="350.30" x2="413.00" y2="350.30" stroke="#000" stroke-width="1.3"/>
<text x="393.50" y="355.90" font-size="16" text-anchor="end" fill="#000" >1.6</text>
<line x1="413.00" y1="574.60" x2="413.00" y2="579.60" stroke="#000" stroke-width="1.3"/>
<line x1="441.30" y1="574.60" x2="441.30" y2="579.60" stroke="#000" stroke-width="1.3"/>
<line x1="469.60" y1="574.60" x2="469.60" y2="579.60" stroke="#000" stroke-width="1.3"/>
<line x1="497.90" y1="574.60" x2="497.90" y2="579.60" stroke="#000" stroke-width="1.3"/>
<line x1="526.20" y1="574.60" x2="526.20" y2="579.60" stroke="#000" stroke-width="1.3"/>
<line x1="554.50" y1="574.60" x2="554.50" y2="579.60" stroke="#000" stroke-width="1.3"/>
<line x1="582.80" y1="574.60" x2="582.80" y2="579.60" stroke="#000" stroke-width="1.3"/>
<line x1="611.10" y1="574.60" x2="611.10" y2="579.60" stroke="#000" stroke-width="1.3"/>
<line x1="639.40" y1="574.60" x2="639.40" y2="579.60" stroke="#000" stroke-width="1.3"/>
<text x="427.15" y="599.80" font-size="16" text-anchor="middle" fill="#000" >0</text>
<text x="455.45" y="599.80" font-size="16" text-anchor="middle" fill="#000" >1</text>
<text x="483.75" y="599.80" font-size="16" text-anchor="middle" fill="#000" >5</text>
<text x="512.05" y="599.80" font-size="16" text-anchor="middle" fill="#000" >10</text>
<text x="540.35" y="599.80" font-size="16" text-anchor="middle" fill="#000" >25</text>
<text x="568.65" y="599.80" font-size="16" text-anchor="middle" fill="#000" >50</text>
<text x="596.95" y="599.80" font-size="16" text-anchor="middle" fill="#000" >100</text>
<text x="625.25" y="599.80" font-size="16" text-anchor="middle" fill="#000" >200</text>
<text x="526.20" y="623.90" font-size="16.9" text-anchor="middle" fill="#000" >OBP-702 (MOI)</text>
<text x="527.30" y="349.50" font-size="19" text-anchor="middle" fill="#000" >hPSC-14</text>
<path d="M427.15 421.94 V446.89 M422.15 421.94 H432.15 M422.15 446.89 H432.15" stroke="#000000" stroke-width="1.5" fill="none"/>
<path d="M455.45 434.69 V444.23 M450.45 434.69 H460.45 M450.45 444.23 H460.45" stroke="#000000" stroke-width="1.5" fill="none"/>
<path d="M483.75 417.31 V439.46 M478.75 417.31 H488.75 M478.75 439.46 H488.75" stroke="#000000" stroke-width="1.5" fill="none"/>
<path d="M512.05 373.99 V418.85 M507.05 373.99 H517.05 M507.05 418.85 H517.05" stroke="#000000" stroke-width="1.5" fill="none"/>
<path d="M540.35 382.12 V405.67 M535.35 382.12 H545.35 M535.35 405.67 H545.35" stroke="#000000" stroke-width="1.5" fill="none"/>
<path d="M568.65 397.54 V423.06 M563.65 397.54 H573.65 M563.65 423.06 H573.65" stroke="#000000" stroke-width="1.5" fill="none"/>
<path d="M596.95 422.78 V444.93 M591.95 422.78 H601.95 M591.95 444.93 H601.95" stroke="#000000" stroke-width="1.5" fill="none"/>
<path d="M625.25 442.40 V457.54 M620.25 442.40 H630.25 M620.25 457.54 H630.25" stroke="#000000" stroke-width="1.5" fill="none"/>
<path d="M427.15 430.21 V438.62 M422.15 430.21 H432.15 M422.15 438.62 H432.15" stroke="#ff0000" stroke-width="1.5" fill="none"/>
<path d="M455.45 402.17 V418.71 M450.45 402.17 H460.45 M450.45 418.71 H460.45" stroke="#ff0000" stroke-width="1.5" fill="none"/>
<path d="M483.75 371.89 V408.90 M478.75 371.89 H488.75 M478.75 408.90 H488.75" stroke="#ff0000" stroke-width="1.5" fill="none"/>
<path d="M512.05 382.26 V425.72 M507.05 382.26 H517.05 M507.05 425.72 H517.05" stroke="#ff0000" stroke-width="1.5" fill="none"/>
<path d="M540.35 430.63 V441.28 M535.35 430.63 H545.35 M535.35 441.28 H545.35" stroke="#ff0000" stroke-width="1.5" fill="none"/>
<path d="M568.65 458.95 V479.97 M563.65 458.95 H573.65 M563.65 479.97 H573.65" stroke="#ff0000" stroke-width="1.5" fill="none"/>
<path d="M596.95 475.91 V484.04 M591.95 475.91 H601.95 M591.95 484.04 H601.95" stroke="#ff0000" stroke-width="1.5" fill="none"/>
<path d="M625.25 486.00 V491.05 M620.25 486.00 H630.25 M620.25 491.05 H630.25" stroke="#ff0000" stroke-width="1.5" fill="none"/>
<path d="M427.15 426.70 V442.12 M422.15 426.70 H432.15 M422.15 442.12 H432.15" stroke="#3264c2" stroke-width="1.5" fill="none"/>
<path d="M455.45 422.36 V436.38 M450.45 422.36 H460.45 M450.45 436.38 H460.45" stroke="#3264c2" stroke-width="1.5" fill="none"/>
<path d="M483.75 408.48 V435.39 M478.75 408.48 H488.75 M478.75 435.39 H488.75" stroke="#3264c2" stroke-width="1.5" fill="none"/>
<path d="M512.05 420.25 V453.06 M507.05 420.25 H517.05 M507.05 453.06 H517.05" stroke="#3264c2" stroke-width="1.5" fill="none"/>
<path d="M540.35 456.84 V482.08 M535.35 456.84 H545.35 M535.35 482.08 H545.35" stroke="#3264c2" stroke-width="1.5" fill="none"/>
<path d="M568.65 486.98 V497.08 M563.65 486.98 H573.65 M563.65 497.08 H573.65" stroke="#3264c2" stroke-width="1.5" fill="none"/>
<path d="M596.95 496.80 V507.73 M591.95 496.80 H601.95 M591.95 507.73 H601.95" stroke="#3264c2" stroke-width="1.5" fill="none"/>
<path d="M625.25 502.26 V516.28 M620.25 502.26 H630.25 M620.25 516.28 H630.25" stroke="#3264c2" stroke-width="1.5" fill="none"/>
<polyline points="427.15,434.41 455.45,439.46 483.75,428.38 512.05,396.42 540.35,393.90 568.65,410.30 596.95,433.85 625.25,449.97" fill="none" stroke="#000000" stroke-width="2.2" stroke-linejoin="round"/>
<circle cx="427.15" cy="434.41" r="4.0" fill="#000"/>
<circle cx="455.45" cy="439.46" r="4.0" fill="#000"/>
<circle cx="483.75" cy="428.38" r="4.0" fill="#000"/>
<circle cx="512.05" cy="396.42" r="4.0" fill="#000"/>
<circle cx="540.35" cy="393.90" r="4.0" fill="#000"/>
<circle cx="568.65" cy="410.30" r="4.0" fill="#000"/>
<circle cx="596.95" cy="433.85" r="4.0" fill="#000"/>
<circle cx="625.25" cy="449.97" r="4.0" fill="#000"/>
<polyline points="427.15,434.41 455.45,410.44 483.75,390.39 512.05,403.99 540.35,435.95 568.65,469.46 596.95,479.97 625.25,488.52" fill="none" stroke="#ff0000" stroke-width="2.2" stroke-linejoin="round"/>
<rect x="423.25" y="430.51" width="7.8" height="7.8" fill="#ff0000"/>
<rect x="451.55" y="406.54" width="7.8" height="7.8" fill="#ff0000"/>
<rect x="479.85" y="386.49" width="7.8" height="7.8" fill="#ff0000"/>
<rect x="508.15" y="400.09" width="7.8" height="7.8" fill="#ff0000"/>
<rect x="536.45" y="432.05" width="7.8" height="7.8" fill="#ff0000"/>
<rect x="564.75" y="465.56" width="7.8" height="7.8" fill="#ff0000"/>
<rect x="593.05" y="476.07" width="7.8" height="7.8" fill="#ff0000"/>
<rect x="621.35" y="484.62" width="7.8" height="7.8" fill="#ff0000"/>
<polyline points="427.15,434.41 455.45,429.37 483.75,421.94 512.05,436.66 540.35,469.46 568.65,492.03 596.95,502.26 625.25,509.27" fill="none" stroke="#3264c2" stroke-width="2.2" stroke-linejoin="round"/>
<path d="M427.15 429.16 L431.75 437.63 L422.55 437.63 Z" fill="#3f7bc9" stroke="#3264c2" stroke-width="0.7" stroke-linejoin="round"/>
<path d="M455.45 424.12 L460.05 432.58 L450.85 432.58 Z" fill="#3f7bc9" stroke="#3264c2" stroke-width="0.7" stroke-linejoin="round"/>
<path d="M483.75 416.69 L488.35 425.15 L479.15 425.15 Z" fill="#3f7bc9" stroke="#3264c2" stroke-width="0.7" stroke-linejoin="round"/>
<path d="M512.05 431.41 L516.65 439.87 L507.45 439.87 Z" fill="#3f7bc9" stroke="#3264c2" stroke-width="0.7" stroke-linejoin="round"/>
<path d="M540.35 464.21 L544.95 472.68 L535.75 472.68 Z" fill="#3f7bc9" stroke="#3264c2" stroke-width="0.7" stroke-linejoin="round"/>
<path d="M568.65 486.78 L573.25 495.25 L564.05 495.25 Z" fill="#3f7bc9" stroke="#3264c2" stroke-width="0.7" stroke-linejoin="round"/>
<path d="M596.95 497.02 L601.55 505.48 L592.35 505.48 Z" fill="#3f7bc9" stroke="#3264c2" stroke-width="0.7" stroke-linejoin="round"/>
<path d="M625.25 504.02 L629.85 512.49 L620.65 512.49 Z" fill="#3f7bc9" stroke="#3264c2" stroke-width="0.7" stroke-linejoin="round"/>
<line x1="419.30" y1="511.40" x2="459.90" y2="511.40" stroke="#000000" stroke-width="2"/>
<circle cx="439.60" cy="511.40" r="3.6" fill="#000"/>
<text x="464.10" y="517.00" font-size="16.8" text-anchor="start" fill="#000" >SFM</text>
<line x1="419.30" y1="537.90" x2="459.90" y2="537.90" stroke="#ff0000" stroke-width="2"/>
<rect x="435.90" y="534.20" width="7.4" height="7.4" fill="#ff0000"/>
<text x="464.10" y="543.50" font-size="16.8" text-anchor="start" fill="#000" >Panc-1 CM</text>
<line x1="419.30" y1="563.60" x2="459.90" y2="563.60" stroke="#3264c2" stroke-width="2"/>
<path d="M439.60 558.69 L443.90 566.61 L435.30 566.61 Z" fill="#3f7bc9" stroke="#3264c2" stroke-width="0.7" stroke-linejoin="round"/>
<text x="464.10" y="569.20" font-size="16.8" text-anchor="start" fill="#000" >BxPC-3 CM</text>
<text x="540.35" y="497.80" font-size="17" text-anchor="middle" fill="#000" >**</text>
<text x="568.65" y="457.70" font-size="17" text-anchor="middle" fill="#000" >***</text>
<text x="568.65" y="513.00" font-size="17" text-anchor="middle" fill="#000" >****</text>
<text x="596.95" y="475.20" font-size="17" text-anchor="middle" fill="#000" >****</text>
<text x="596.95" y="523.50" font-size="17" text-anchor="middle" fill="#000" >****</text>
<text x="625.25" y="485.00" font-size="17" text-anchor="middle" fill="#000" >****</text>
<text x="625.25" y="532.90" font-size="17" text-anchor="middle" fill="#000" >****</text>
<text x="24.60" y="678.40" font-size="21.5" text-anchor="start" font-weight="bold" fill="#000" >C</text>
<text x="395.00" y="681.20" font-size="18.6" text-anchor="middle" fill="#000" >hPSC-5</text>
<line x1="111.40" y1="692.20" x2="679.80" y2="692.20" stroke="#000" stroke-width="1.5"/>
<line x1="111.00" y1="729.20" x2="241.00" y2="729.20" stroke="#000" stroke-width="1.5"/>
<line x1="249.00" y1="729.20" x2="378.40" y2="729.20" stroke="#000" stroke-width="1.5"/>
<line x1="414.40" y1="729.20" x2="543.70" y2="729.20" stroke="#000" stroke-width="1.5"/>
<line x1="550.80" y1="729.20" x2="679.80" y2="729.20" stroke="#000" stroke-width="1.5"/>
<text x="179.40" y="716.80" font-size="17" text-anchor="middle" fill="#000" >SFM</text>
<text x="314.60" y="716.80" font-size="17" text-anchor="middle" fill="#000" >Panc-1 CM</text>
<text x="477.40" y="716.80" font-size="17" text-anchor="middle" fill="#000" >SFM</text>
<text x="614.80" y="716.80" font-size="17" text-anchor="middle" fill="#000" >BxPC-3 CM</text>
<text x="26.80" y="755.20" font-size="17" text-anchor="start" fill="#000" >702 (MOI)</text>
<text x="132.30" y="754.40" font-size="17" text-anchor="middle" fill="#000" >0</text>
<text x="162.30" y="754.40" font-size="17" text-anchor="middle" fill="#000" >25</text>
<text x="192.00" y="754.40" font-size="17" text-anchor="middle" fill="#000" >50</text>
<text x="224.00" y="754.40" font-size="17" text-anchor="middle" fill="#000" >100</text>
<text x="259.30" y="754.40" font-size="17" text-anchor="middle" fill="#000" >0</text>
<text x="288.60" y="754.40" font-size="17" text-anchor="middle" fill="#000" >25</text>
<text x="318.60" y="754.40" font-size="17" text-anchor="middle" fill="#000" >50</text>
<text x="351.00" y="754.40" font-size="17" text-anchor="middle" fill="#000" >100</text>
<text x="429.30" y="754.40" font-size="17" text-anchor="middle" fill="#000" >0</text>
<text x="462.30" y="754.40" font-size="17" text-anchor="middle" fill="#000" >25</text>
<text x="495.40" y="754.40" font-size="17" text-anchor="middle" fill="#000" >50</text>
<text x="527.70" y="754.40" font-size="17" text-anchor="middle" fill="#000" >100</text>
<text x="559.50" y="754.40" font-size="17" text-anchor="middle" fill="#000" >0</text>
<text x="590.50" y="754.40" font-size="17" text-anchor="middle" fill="#000" >25</text>
<text x="622.90" y="754.40" font-size="17" text-anchor="middle" fill="#000" >50</text>
<text x="657.60" y="754.40" font-size="17" text-anchor="middle" fill="#000" >100</text>
<text x="97.80" y="799.20" font-size="17" text-anchor="end" fill="#000" >E1A</text>
<text x="96.00" y="836.20" font-size="14.8" text-anchor="end" fill="#000" >E1A /Actin</text>
<text x="97.60" y="859.60" font-size="17" text-anchor="end" fill="#000" >p53</text>
<text x="96.00" y="888.40" font-size="14.8" text-anchor="end" fill="#000" >p53 /Actin</text>
<text x="95.00" y="906.00" font-size="16.6" text-anchor="end" fill="#000" >PARP</text>
<text x="95.00" y="923.60" font-size="16.6" text-anchor="end" fill="#000" >C-PARP</text>
<text x="95.80" y="945.80" font-size="14.8" text-anchor="end" fill="#000" >C-PARP /Actin</text>
<text x="96.60" y="973.20" font-size="17" text-anchor="end" fill="#000" >β-Actin</text>
<path d="M97.80 894.00 L110.60 900.40 L97.80 906.80 Z" fill="#000"/>
<path d="M97.80 911.60 L110.60 918.00 L97.80 924.40 Z" fill="#000"/>
<path d="M399.00 894.30 L412.40 901.00 L399.00 907.70 Z" fill="#000"/>
<path d="M399.00 912.60 L412.40 919.30 L399.00 926.00 Z" fill="#000"/>
<text x="131.00" y="835.80" font-size="14.7" text-anchor="middle" fill="#000" >1.0</text>
<text x="160.80" y="835.80" font-size="14.7" text-anchor="middle" fill="#000" >10.5</text>
<text x="194.80" y="835.80" font-size="14.7" text-anchor="middle" fill="#000" >14.7</text>
<text x="228.10" y="835.80" font-size="14.7" text-anchor="middle" fill="#000" >15.7</text>
<text x="259.50" y="835.80" font-size="14.7" text-anchor="middle" fill="#000" >1.6</text>
<text x="292.90" y="835.80" font-size="14.7" text-anchor="middle" fill="#000" >18.2</text>
<text x="326.40" y="835.80" font-size="14.7" text-anchor="middle" fill="#000" >18.3</text>
<text x="359.60" y="835.80" font-size="14.7" text-anchor="middle" fill="#000" >17.6</text>
<text x="431.80" y="835.80" font-size="14.7" text-anchor="middle" fill="#000" >1.0</text>
<text x="464.20" y="835.80" font-size="14.7" text-anchor="middle" fill="#000" >15.1</text>
<text x="496.30" y="835.80" font-size="14.7" text-anchor="middle" fill="#000" >13.7</text>
<text x="530.60" y="835.80" font-size="14.7" text-anchor="middle" fill="#000" >12.0</text>
<text x="562.40" y="835.80" font-size="14.7" text-anchor="middle" fill="#000" >0.9</text>
<text x="595.00" y="835.80" font-size="14.7" text-anchor="middle" fill="#000" >5.7</text>
<text x="627.80" y="835.80" font-size="14.7" text-anchor="middle" fill="#000" >5.8</text>
<text x="659.40" y="835.80" font-size="14.7" text-anchor="middle" fill="#000" >4.3</text>
<text x="132.40" y="887.60" font-size="14.7" text-anchor="middle" fill="#000" >1.0</text>
<text x="159.90" y="887.60" font-size="14.7" text-anchor="middle" fill="#000" >2.7</text>
<text x="195.30" y="887.60" font-size="14.7" text-anchor="middle" fill="#000" >25.2</text>
<text x="229.60" y="887.60" font-size="14.7" text-anchor="middle" fill="#000" >54.2</text>
<text x="259.80" y="887.60" font-size="14.7" text-anchor="middle" fill="#000" >2.1</text>
<text x="293.30" y="887.60" font-size="14.7" text-anchor="middle" fill="#000" >53.3</text>
<text x="326.50" y="887.60" font-size="14.7" text-anchor="middle" fill="#000" >58.9</text>
<text x="358.90" y="887.60" font-size="14.7" text-anchor="middle" fill="#000" >58.1</text>
<text x="434.00" y="887.60" font-size="14.7" text-anchor="middle" fill="#000" >1.0</text>
<text x="466.00" y="887.60" font-size="14.7" text-anchor="middle" fill="#000" >9.8</text>
<text x="498.60" y="887.60" font-size="14.7" text-anchor="middle" fill="#000" >14.3</text>
<text x="531.50" y="887.60" font-size="14.7" text-anchor="middle" fill="#000" >16.5</text>
<text x="561.60" y="887.60" font-size="14.7" text-anchor="middle" fill="#000" >1.0</text>
<text x="595.70" y="887.60" font-size="14.7" text-anchor="middle" fill="#000" >13.4</text>
<text x="629.00" y="887.60" font-size="14.7" text-anchor="middle" fill="#000" >14.7</text>
<text x="660.00" y="887.60" font-size="14.7" text-anchor="middle" fill="#000" >14.8</text>
<text x="130.80" y="945.60" font-size="14.7" text-anchor="middle" fill="#000" >1.0</text>
<text x="161.20" y="945.60" font-size="14.7" text-anchor="middle" fill="#000" >1.3</text>
<text x="195.20" y="945.60" font-size="14.7" text-anchor="middle" fill="#000" >1.2</text>
<text x="227.40" y="945.60" font-size="14.7" text-anchor="middle" fill="#000" >1.8</text>
<text x="259.00" y="945.60" font-size="14.7" text-anchor="middle" fill="#000" >1.9</text>
<text x="293.20" y="945.60" font-size="14.7" text-anchor="middle" fill="#000" >2.5</text>
<text x="326.50" y="945.60" font-size="14.7" text-anchor="middle" fill="#000" >3.0</text>
<text x="359.40" y="945.60" font-size="14.7" text-anchor="middle" fill="#000" >3.1</text>
<text x="434.00" y="945.80" font-size="14.7" text-anchor="middle" fill="#000" >1.0</text>
<text x="466.00" y="945.80" font-size="14.7" text-anchor="middle" fill="#000" >1.6</text>
<text x="498.00" y="945.80" font-size="14.7" text-anchor="middle" fill="#000" >1.9</text>
<text x="530.00" y="945.80" font-size="14.7" text-anchor="middle" fill="#000" >1.6</text>
<text x="563.50" y="945.80" font-size="14.7" text-anchor="middle" fill="#000" >1.3</text>
<text x="596.00" y="945.80" font-size="14.7" text-anchor="middle" fill="#000" >16.4</text>
<text x="628.70" y="945.80" font-size="14.7" text-anchor="middle" fill="#000" >41.5</text>
<text x="661.70" y="945.80" font-size="14.7" text-anchor="middle" fill="#000" >40.3</text>
<rect x="110.40" y="765.60" width="269.20" height="51.10" fill="url(#gE1ACL)" stroke="#000" stroke-width="1.5"/>
<g clip-path="url(#cE1ACL)">
<rect x="149.60" y="775.00" width="23.40" height="39.00" rx="2" fill="#000" opacity="0.085" filter="url(#b14)"/>
<rect x="182.00" y="775.00" width="23.80" height="39.00" rx="2" fill="#000" opacity="0.1" filter="url(#b14)"/>
<rect x="215.80" y="775.00" width="23.80" height="39.00" rx="2" fill="#000" opacity="0.1" filter="url(#b14)"/>
<rect x="280.00" y="779.00" width="25.70" height="33.00" rx="2" fill="#000" opacity="0.12" filter="url(#b14)"/>
<rect x="314.00" y="779.00" width="23.40" height="33.00" rx="2" fill="#000" opacity="0.11" filter="url(#b14)"/>
<rect x="346.80" y="779.00" width="25.20" height="33.00" rx="2" fill="#000" opacity="0.12" filter="url(#b14)"/>
<path d="M149.60 779.00 Q149.60 776.25 152.35 776.25 Q161.30 776.25 170.25 776.25 Q173.00 776.25 173.00 779.00 Q173.00 781.75 170.25 781.75 Q161.30 781.75 152.35 781.75 Q149.60 781.75 149.60 779.00 Z" fill="url(#g1)" opacity="1.0" filter="url(#b10)"/>
<path d="M182.00 779.00 Q182.00 776.00 185.00 776.00 Q193.90 776.00 202.80 776.00 Q205.80 776.00 205.80 779.00 Q205.80 782.00 202.80 782.00 Q193.90 782.00 185.00 782.00 Q182.00 782.00 182.00 779.00 Z" fill="url(#g2)" opacity="1.0" filter="url(#b10)"/>
<path d="M215.80 779.30 Q215.80 776.55 218.55 776.55 Q227.70 776.17 236.10 775.80 Q239.60 775.80 239.60 779.30 Q239.60 782.80 236.10 782.80 Q227.70 782.42 218.55 782.05 Q215.80 782.05 215.80 779.30 Z" fill="url(#g3)" opacity="1.0" filter="url(#b10)"/>
<path d="M149.60 788.00 Q149.60 786.00 151.60 786.00 Q161.30 786.00 171.00 786.00 Q173.00 786.00 173.00 788.00 Q173.00 790.00 171.00 790.00 Q161.30 790.00 151.60 790.00 Q149.60 790.00 149.60 788.00 Z" fill="#d8d8d8" opacity="1.0" filter="url(#b15)"/>
<path d="M182.00 788.00 Q182.00 786.00 184.00 786.00 Q193.90 786.00 203.80 786.00 Q205.80 786.00 205.80 788.00 Q205.80 790.00 203.80 790.00 Q193.90 790.00 184.00 790.00 Q182.00 790.00 182.00 788.00 Z" fill="#d0d0d0" opacity="1.0" filter="url(#b15)"/>
<path d="M215.80 788.00 Q215.80 786.00 217.80 786.00 Q227.70 786.00 237.60 786.00 Q239.60 786.00 239.60 788.00 Q239.60 790.00 237.60 790.00 Q227.70 790.00 217.80 790.00 Q215.80 790.00 215.80 788.00 Z" fill="#d0d0d0" opacity="1.0" filter="url(#b15)"/>
<path d="M149.60 796.00 Q149.60 793.00 152.60 793.00 Q161.30 793.00 170.00 793.00 Q173.00 793.00 173.00 796.00 Q173.00 799.00 170.00 799.00 Q161.30 799.00 152.60 799.00 Q149.60 799.00 149.60 796.00 Z" fill="#c4c4c4" opacity="1.0" filter="url(#b17)"/>
<path d="M182.00 796.00 Q182.00 793.00 185.00 793.00 Q193.90 793.00 202.80 793.00 Q205.80 793.00 205.80 796.00 Q205.80 799.00 202.80 799.00 Q193.90 799.00 185.00 799.00 Q182.00 799.00 182.00 796.00 Z" fill="#acacac" opacity="1.0" filter="url(#b16)"/>
<path d="M215.80 796.00 Q215.80 793.00 218.80 793.00 Q227.70 793.00 236.60 793.00 Q239.60 793.00 239.60 796.00 Q239.60 799.00 236.60 799.00 Q227.70 799.00 218.80 799.00 Q215.80 799.00 215.80 796.00 Z" fill="#b0b0b0" opacity="1.0" filter="url(#b16)"/>
<path d="M149.60 809.50 Q149.60 806.75 152.35 806.75 Q161.30 806.75 170.25 806.75 Q173.00 806.75 173.00 809.50 Q173.00 812.25 170.25 812.25 Q161.30 812.25 152.35 812.25 Q149.60 812.25 149.60 809.50 Z" fill="#d2d2d2" opacity="1.0" filter="url(#b17)"/>
<path d="M182.00 809.50 Q182.00 806.75 184.75 806.75 Q193.90 806.75 203.05 806.75 Q205.80 806.75 205.80 809.50 Q205.80 812.25 203.05 812.25 Q193.90 812.25 184.75 812.25 Q182.00 812.25 182.00 809.50 Z" fill="#c6c6c6" opacity="1.0" filter="url(#b17)"/>
<path d="M215.80 809.50 Q215.80 806.75 218.55 806.75 Q227.70 806.75 236.85 806.75 Q239.60 806.75 239.60 809.50 Q239.60 812.25 236.85 812.25 Q227.70 812.25 218.55 812.25 Q215.80 812.25 215.80 809.50 Z" fill="#c8c8c8" opacity="1.0" filter="url(#b17)"/>
<path d="M280.00 777.60 Q280.00 774.10 283.50 774.10 Q292.85 774.10 302.20 774.10 Q305.70 774.10 305.70 777.60 Q305.70 781.10 302.20 781.10 Q292.85 781.10 283.50 781.10 Q280.00 781.10 280.00 777.60 Z" fill="url(#g4)" opacity="1.0" filter="url(#b10)"/>
<path d="M314.00 777.20 Q314.00 773.70 317.50 773.70 Q325.70 773.70 333.90 773.70 Q337.40 773.70 337.40 777.20 Q337.40 780.70 333.90 780.70 Q325.70 780.70 317.50 780.70 Q314.00 780.70 314.00 777.20 Z" fill="#000" opacity="1.0" filter="url(#b10)"/>
<path d="M346.80 777.80 Q346.80 775.10 349.50 775.10 Q359.40 773.70 368.70 772.30 Q372.00 772.30 372.00 775.60 Q372.00 778.90 368.70 778.90 Q359.40 779.70 349.50 780.50 Q346.80 780.50 346.80 777.80 Z" fill="url(#g5)" opacity="1.0" filter="url(#b10)"/>
<path d="M280.00 792.50 Q280.00 788.50 284.00 788.50 Q292.85 788.50 301.70 788.50 Q305.70 788.50 305.70 792.50 Q305.70 796.50 301.70 796.50 Q292.85 796.50 284.00 796.50 Q280.00 796.50 280.00 792.50 Z" fill="#b0b0b0" opacity="1.0" filter="url(#b18)"/>
<path d="M281.00 793.00 Q281.00 791.25 282.75 791.25 Q293.00 791.25 303.25 791.25 Q305.00 791.25 305.00 793.00 Q305.00 794.75 303.25 794.75 Q293.00 794.75 282.75 794.75 Q281.00 794.75 281.00 793.00 Z" fill="#999" opacity="1.0" filter="url(#b13)"/>
<path d="M314.00 792.00 Q314.00 788.00 318.00 788.00 Q325.70 788.00 333.40 788.00 Q337.40 788.00 337.40 792.00 Q337.40 796.00 333.40 796.00 Q325.70 796.00 318.00 796.00 Q314.00 796.00 314.00 792.00 Z" fill="#cacaca" opacity="1.0" filter="url(#b18)"/>
<path d="M346.80 792.00 Q346.80 788.00 350.80 788.00 Q359.40 788.00 368.00 788.00 Q372.00 788.00 372.00 792.00 Q372.00 796.00 368.00 796.00 Q359.40 796.00 350.80 796.00 Q346.80 796.00 346.80 792.00 Z" fill="#a6a6a6" opacity="1.0" filter="url(#b18)"/>
<path d="M346.80 790.00 Q346.80 788.50 348.30 788.50 Q359.40 788.50 370.50 788.50 Q372.00 788.50 372.00 790.00 Q372.00 791.50 370.50 791.50 Q359.40 791.50 348.30 791.50 Q346.80 791.50 346.80 790.00 Z" fill="#888" opacity="1.0" filter="url(#b12)"/>
<path d="M280.00 807.50 Q280.00 804.50 283.00 804.50 Q292.85 804.50 302.70 804.50 Q305.70 804.50 305.70 807.50 Q305.70 810.50 302.70 810.50 Q292.85 810.50 283.00 810.50 Q280.00 810.50 280.00 807.50 Z" fill="#d0d0d0" opacity="1.0" filter="url(#b18)"/>
<path d="M314.00 807.50 Q314.00 804.50 317.00 804.50 Q325.70 804.50 334.40 804.50 Q337.40 804.50 337.40 807.50 Q337.40 810.50 334.40 810.50 Q325.70 810.50 317.00 810.50 Q314.00 810.50 314.00 807.50 Z" fill="#cdcdcd" opacity="1.0" filter="url(#b18)"/>
<path d="M346.80 807.50 Q346.80 804.50 349.80 804.50 Q359.40 804.50 369.00 804.50 Q372.00 804.50 372.00 807.50 Q372.00 810.50 369.00 810.50 Q359.40 810.50 349.80 810.50 Q346.80 810.50 346.80 807.50 Z" fill="#d0d0d0" opacity="1.0" filter="url(#b18)"/>
</g>
<rect x="110.40" y="765.60" width="269.20" height="51.10" fill="none" stroke="#000" stroke-width="1.5"/>
<rect x="414.30" y="765.60" width="266.70" height="50.60" fill="#fcfcfc" stroke="#000" stroke-width="1.5"/>
<g clip-path="url(#cE1ACR)">
<rect x="452.80" y="774.00" width="23.20" height="40.00" rx="2" fill="#000" opacity="0.1" filter="url(#b14)"/>
<rect x="485.80" y="774.00" width="23.20" height="40.00" rx="2" fill="#000" opacity="0.1" filter="url(#b14)"/>
<rect x="518.00" y="774.00" width="23.50" height="40.00" rx="2" fill="#000" opacity="0.1" filter="url(#b14)"/>
<rect x="580.20" y="778.00" width="24.40" height="19.00" rx="2" fill="#000" opacity="0.1" filter="url(#b20)"/>
<rect x="612.60" y="778.00" width="24.20" height="19.00" rx="2" fill="#000" opacity="0.09" filter="url(#b20)"/>
<rect x="645.00" y="778.00" width="24.80" height="19.00" rx="2" fill="#000" opacity="0.05" filter="url(#b20)"/>
<path d="M452.80 779.60 Q452.80 776.85 455.55 776.85 Q464.40 776.85 473.25 776.85 Q476.00 776.85 476.00 779.60 Q476.00 782.35 473.25 782.35 Q464.40 782.35 455.55 782.35 Q452.80 782.35 452.80 779.60 Z" fill="#333" opacity="1.0" filter="url(#b10)"/>
<path d="M485.80 779.60 Q485.80 776.85 488.55 776.85 Q497.40 776.85 506.25 776.85 Q509.00 776.85 509.00 779.60 Q509.00 782.35 506.25 782.35 Q497.40 782.35 488.55 782.35 Q485.80 782.35 485.80 779.60 Z" fill="url(#g6)" opacity="1.0" filter="url(#b10)"/>
<path d="M518.00 779.00 Q518.00 776.25 520.75 776.25 Q529.75 776.25 538.75 776.25 Q541.50 776.25 541.50 779.00 Q541.50 781.75 538.75 781.75 Q529.75 781.75 520.75 781.75 Q518.00 781.75 518.00 779.00 Z" fill="url(#g7)" opacity="1.0" filter="url(#b10)"/>
<path d="M452.80 788.50 Q452.80 786.50 454.80 786.50 Q464.40 786.50 474.00 786.50 Q476.00 786.50 476.00 788.50 Q476.00 790.50 474.00 790.50 Q464.40 790.50 454.80 790.50 Q452.80 790.50 452.80 788.50 Z" fill="#d4d4d4" opacity="1.0" filter="url(#b15)"/>
<path d="M485.80 788.50 Q485.80 786.50 487.80 786.50 Q497.40 786.50 507.00 786.50 Q509.00 786.50 509.00 788.50 Q509.00 790.50 507.00 790.50 Q497.40 790.50 487.80 790.50 Q485.80 790.50 485.80 788.50 Z" fill="#d4d4d4" opacity="1.0" filter="url(#b15)"/>
<path d="M518.00 788.50 Q518.00 786.50 520.00 786.50 Q529.75 786.50 539.50 786.50 Q541.50 786.50 541.50 788.50 Q541.50 790.50 539.50 790.50 Q529.75 790.50 520.00 790.50 Q518.00 790.50 518.00 788.50 Z" fill="#d4d4d4" opacity="1.0" filter="url(#b15)"/>
<path d="M452.80 796.00 Q452.80 793.00 455.80 793.00 Q464.40 793.00 473.00 793.00 Q476.00 793.00 476.00 796.00 Q476.00 799.00 473.00 799.00 Q464.40 799.00 455.80 799.00 Q452.80 799.00 452.80 796.00 Z" fill="url(#g8)" opacity="1.0" filter="url(#b15)"/>
<path d="M485.80 796.00 Q485.80 793.00 488.80 793.00 Q497.40 793.00 506.00 793.00 Q509.00 793.00 509.00 796.00 Q509.00 799.00 506.00 799.00 Q497.40 799.00 488.80 799.00 Q485.80 799.00 485.80 796.00 Z" fill="#aaa" opacity="1.0" filter="url(#b15)"/>
<path d="M518.00 796.00 Q518.00 793.00 521.00 793.00 Q529.75 793.00 538.50 793.00 Q541.50 793.00 541.50 796.00 Q541.50 799.00 538.50 799.00 Q529.75 799.00 521.00 799.00 Q518.00 799.00 518.00 796.00 Z" fill="url(#g9)" opacity="1.0" filter="url(#b15)"/>
<path d="M452.80 808.50 Q452.80 805.50 455.80 805.50 Q464.40 805.50 473.00 805.50 Q476.00 805.50 476.00 808.50 Q476.00 811.50 473.00 811.50 Q464.40 811.50 455.80 811.50 Q452.80 811.50 452.80 808.50 Z" fill="#c6c6c6" opacity="1.0" filter="url(#b16)"/>
<path d="M485.80 808.50 Q485.80 805.50 488.80 805.50 Q497.40 805.50 506.00 805.50 Q509.00 805.50 509.00 808.50 Q509.00 811.50 506.00 811.50 Q497.40 811.50 488.80 811.50 Q485.80 811.50 485.80 808.50 Z" fill="#c6c6c6" opacity="1.0" filter="url(#b16)"/>
<path d="M518.00 808.50 Q518.00 805.50 521.00 805.50 Q529.75 805.50 538.50 805.50 Q541.50 805.50 541.50 808.50 Q541.50 811.50 538.50 811.50 Q529.75 811.50 521.00 811.50 Q518.00 811.50 518.00 808.50 Z" fill="#c6c6c6" opacity="1.0" filter="url(#b16)"/>
<path d="M580.20 778.60 Q580.20 775.85 582.95 775.85 Q592.40 775.25 601.85 774.65 Q604.60 774.65 604.60 777.40 Q604.60 780.15 601.85 780.15 Q592.40 780.75 582.95 781.35 Q580.20 781.35 580.20 778.60 Z" fill="url(#g10)" opacity="1.0" filter="url(#b10)"/>
<path d="M612.60 777.20 Q612.60 774.45 615.35 774.45 Q624.70 774.45 634.05 774.45 Q636.80 774.45 636.80 777.20 Q636.80 779.95 634.05 779.95 Q624.70 779.95 615.35 779.95 Q612.60 779.95 612.60 777.20 Z" fill="url(#g11)" opacity="1.0" filter="url(#b10)"/>
<path d="M645.00 774.50 Q645.00 771.50 648.00 771.50 Q657.40 771.50 666.80 771.50 Q669.80 771.50 669.80 774.50 Q669.80 777.50 666.80 777.50 Q657.40 777.50 648.00 777.50 Q645.00 777.50 645.00 774.50 Z" fill="url(#g12)" opacity="1.0" filter="url(#b11)"/>
<path d="M580.20 790.00 Q580.20 787.50 582.70 787.50 Q592.40 787.50 602.10 787.50 Q604.60 787.50 604.60 790.00 Q604.60 792.50 602.10 792.50 Q592.40 792.50 582.70 792.50 Q580.20 792.50 580.20 790.00 Z" fill="#d6d6d6" opacity="1.0" filter="url(#b18)"/>
<path d="M612.60 790.00 Q612.60 787.50 615.10 787.50 Q624.70 787.50 634.30 787.50 Q636.80 787.50 636.80 790.00 Q636.80 792.50 634.30 792.50 Q624.70 792.50 615.10 792.50 Q612.60 792.50 612.60 790.00 Z" fill="#d6d6d6" opacity="1.0" filter="url(#b18)"/>
<path d="M645.00 790.00 Q645.00 787.50 647.50 787.50 Q657.40 787.50 667.30 787.50 Q669.80 787.50 669.80 790.00 Q669.80 792.50 667.30 792.50 Q657.40 792.50 647.50 792.50 Q645.00 792.50 645.00 790.00 Z" fill="#eaeaea" opacity="1.0" filter="url(#b18)"/>
</g>
<rect x="414.30" y="765.60" width="266.70" height="50.60" fill="none" stroke="#000" stroke-width="1.5"/>
<rect x="110.40" y="841.00" width="268.20" height="28.00" fill="#fcfcfc" stroke="#000" stroke-width="1.5"/>
<path d="M152.00 856.00 Q152.00 854.00 154.00 854.00 Q164.00 854.00 174.00 854.00 Q176.00 854.00 176.00 856.00 Q176.00 858.00 174.00 858.00 Q164.00 858.00 154.00 858.00 Q152.00 858.00 152.00 856.00 Z" fill="#eee" opacity="1.0" filter="url(#b15)"/>
<path d="M184.70 856.00 Q184.70 853.50 187.20 853.50 Q196.35 853.50 205.50 853.50 Q208.00 853.50 208.00 856.00 Q208.00 858.50 205.50 858.50 Q196.35 858.50 187.20 858.50 Q184.70 858.50 184.70 856.00 Z" fill="url(#g13)" opacity="1.0" filter="url(#b10)"/>
<path d="M215.40 856.00 Q215.40 853.00 218.40 853.00 Q228.10 853.00 237.80 853.00 Q240.80 853.00 240.80 856.00 Q240.80 859.00 237.80 859.00 Q228.10 859.00 218.40 859.00 Q215.40 859.00 215.40 856.00 Z" fill="url(#g14)" opacity="1.0" filter="url(#b10)"/>
<path d="M280.00 856.50 Q280.00 854.00 282.50 854.00 Q292.00 854.00 301.50 854.00 Q304.00 854.00 304.00 856.50 Q304.00 859.00 301.50 859.00 Q292.00 859.00 282.50 859.00 Q280.00 859.00 280.00 856.50 Z" fill="url(#g15)" opacity="1.0" filter="url(#b10)"/>
<path d="M312.00 856.00 Q312.00 853.25 314.75 853.25 Q324.50 853.25 334.25 853.25 Q337.00 853.25 337.00 856.00 Q337.00 858.75 334.25 858.75 Q324.50 858.75 314.75 858.75 Q312.00 858.75 312.00 856.00 Z" fill="#000" opacity="1.0" filter="url(#b10)"/>
<path d="M344.00 855.70 Q344.00 852.45 347.25 852.45 Q357.50 852.70 368.25 852.95 Q371.00 852.95 371.00 855.70 Q371.00 858.45 368.25 858.45 Q357.50 858.70 347.25 858.95 Q344.00 858.95 344.00 855.70 Z" fill="#000" opacity="1.0" filter="url(#b10)"/>
<path d="M283.00 864.50 Q283.00 863.25 284.25 863.25 Q291.50 863.25 298.75 863.25 Q300.00 863.25 300.00 864.50 Q300.00 865.75 298.75 865.75 Q291.50 865.75 284.25 865.75 Q283.00 865.75 283.00 864.50 Z" fill="#e8e8e8" opacity="1.0" filter="url(#b10)"/>
<path d="M315.00 864.50 Q315.00 863.25 316.25 863.25 Q324.00 863.25 331.75 863.25 Q333.00 863.25 333.00 864.50 Q333.00 865.75 331.75 865.75 Q324.00 865.75 316.25 865.75 Q315.00 865.75 315.00 864.50 Z" fill="#eeeeee" opacity="1.0" filter="url(#b10)"/>
<rect x="414.40" y="842.00" width="266.00" height="27.60" fill="#fbfbfb" stroke="#000" stroke-width="1.5"/>
<path d="M457.00 856.00 Q457.00 853.25 459.75 853.25 Q469.50 853.25 479.25 853.25 Q482.00 853.25 482.00 856.00 Q482.00 858.75 479.25 858.75 Q469.50 858.75 459.75 858.75 Q457.00 858.75 457.00 856.00 Z" fill="#777" opacity="1.0" filter="url(#b10)"/>
<path d="M488.00 855.50 Q488.00 852.50 491.00 852.50 Q500.50 852.50 510.00 852.50 Q513.00 852.50 513.00 855.50 Q513.00 858.50 510.00 858.50 Q500.50 858.50 491.00 858.50 Q488.00 858.50 488.00 855.50 Z" fill="#333" opacity="1.0" filter="url(#b10)"/>
<path d="M519.00 855.50 Q519.00 852.25 522.25 852.25 Q531.50 852.25 540.75 852.25 Q544.00 852.25 544.00 855.50 Q544.00 858.75 540.75 858.75 Q531.50 858.75 522.25 858.75 Q519.00 858.75 519.00 855.50 Z" fill="#111" opacity="1.0" filter="url(#b10)"/>
<path d="M457.00 865.00 Q457.00 863.25 458.75 863.25 Q469.50 863.25 480.25 863.25 Q482.00 863.25 482.00 865.00 Q482.00 866.75 480.25 866.75 Q469.50 866.75 458.75 866.75 Q457.00 866.75 457.00 865.00 Z" fill="#eee" opacity="1.0" filter="url(#b12)"/>
<path d="M488.00 865.00 Q488.00 863.25 489.75 863.25 Q500.50 863.25 511.25 863.25 Q513.00 863.25 513.00 865.00 Q513.00 866.75 511.25 866.75 Q500.50 866.75 489.75 866.75 Q488.00 866.75 488.00 865.00 Z" fill="#ddd" opacity="1.0" filter="url(#b12)"/>
<path d="M519.00 865.00 Q519.00 863.25 520.75 863.25 Q531.50 863.25 542.25 863.25 Q544.00 863.25 544.00 865.00 Q544.00 866.75 542.25 866.75 Q531.50 866.75 520.75 866.75 Q519.00 866.75 519.00 865.00 Z" fill="#ddd" opacity="1.0" filter="url(#b12)"/>
<path d="M581.00 854.80 Q581.00 852.05 583.75 852.05 Q594.00 852.17 604.50 852.30 Q607.00 852.30 607.00 854.80 Q607.00 857.30 604.50 857.30 Q594.00 857.42 583.75 857.55 Q581.00 857.55 581.00 854.80 Z" fill="#000" opacity="1.0" filter="url(#b10)"/>
<path d="M612.00 853.80 Q612.00 850.80 615.00 850.80 Q625.50 851.05 636.50 851.30 Q639.00 851.30 639.00 853.80 Q639.00 856.30 636.50 856.30 Q625.50 856.55 615.00 856.80 Q612.00 856.80 612.00 853.80 Z" fill="#000" opacity="1.0" filter="url(#b10)"/>
<path d="M643.00 853.50 Q643.00 850.75 645.75 850.75 Q657.00 849.62 668.00 848.50 Q671.00 848.50 671.00 851.50 Q671.00 854.50 668.00 854.50 Q657.00 855.38 645.75 856.25 Q643.00 856.25 643.00 853.50 Z" fill="#000" opacity="1.0" filter="url(#b10)"/>
<path d="M581.00 864.00 Q581.00 862.25 582.75 862.25 Q594.00 862.25 605.25 862.25 Q607.00 862.25 607.00 864.00 Q607.00 865.75 605.25 865.75 Q594.00 865.75 582.75 865.75 Q581.00 865.75 581.00 864.00 Z" fill="#e6e6e6" opacity="1.0" filter="url(#b13)"/>
<path d="M612.00 864.00 Q612.00 862.25 613.75 862.25 Q625.50 862.25 637.25 862.25 Q639.00 862.25 639.00 864.00 Q639.00 865.75 637.25 865.75 Q625.50 865.75 613.75 865.75 Q612.00 865.75 612.00 864.00 Z" fill="#e6e6e6" opacity="1.0" filter="url(#b13)"/>
<path d="M643.00 864.00 Q643.00 862.25 644.75 862.25 Q657.00 862.25 669.25 862.25 Q671.00 862.25 671.00 864.00 Q671.00 865.75 669.25 865.75 Q657.00 865.75 644.75 865.75 Q643.00 865.75 643.00 864.00 Z" fill="#e6e6e6" opacity="1.0" filter="url(#b13)"/>
<rect x="111" y="893.8" width="268" height="32.6" fill="url(#gParpC)"/>
<rect x="111" y="893.8" width="268" height="32.6" fill="url(#gParpCv)"/>
<rect x="111" y="893.8" width="268" height="32.6" fill="#000" filter="url(#noiseA)"/>
<rect x="290.00" y="895.00" width="88.00" height="31.00" rx="2" fill="#000" opacity="0.06" filter="url(#b30)"/>
<path d="M312.00 904.00 Q312.00 900.00 316.00 900.00 Q325.00 900.00 334.00 900.00 Q338.00 900.00 338.00 904.00 Q338.00 908.00 334.00 908.00 Q325.00 908.00 316.00 908.00 Q312.00 908.00 312.00 904.00 Z" fill="#888" opacity="0.35" filter="url(#b25)"/>
<path d="M342.00 904.00 Q342.00 900.00 346.00 900.00 Q357.00 900.00 368.00 900.00 Q372.00 900.00 372.00 904.00 Q372.00 908.00 368.00 908.00 Q357.00 908.00 346.00 908.00 Q342.00 908.00 342.00 904.00 Z" fill="#888" opacity="0.4" filter="url(#b25)"/>
<path d="M312.00 917.80 Q312.00 915.80 314.00 915.80 Q325.00 915.80 336.00 915.80 Q338.00 915.80 338.00 917.80 Q338.00 919.80 336.00 919.80 Q325.00 919.80 314.00 919.80 Q312.00 919.80 312.00 917.80 Z" fill="#777" opacity="0.35" filter="url(#b18)"/>
<path d="M344.00 917.60 Q344.00 915.60 346.00 915.60 Q357.00 915.60 368.00 915.60 Q370.00 915.60 370.00 917.60 Q370.00 919.60 368.00 919.60 Q357.00 919.60 346.00 919.60 Q344.00 919.60 344.00 917.60 Z" fill="#555" opacity="0.5" filter="url(#b16)"/>
<rect x="111.00" y="893.80" width="267.60" height="32.60" fill="none" stroke="#000" stroke-width="1.5"/>
<rect x="413.60" y="893.60" width="266.80" height="33.80" fill="#fdfdfd" stroke="#000" stroke-width="1.5"/>
<path d="M474.00 904.00 Q474.00 902.00 476.00 902.00 Q478.50 902.00 481.00 902.00 Q483.00 902.00 483.00 904.00 Q483.00 906.00 481.00 906.00 Q478.50 906.00 476.00 906.00 Q474.00 906.00 474.00 904.00 Z" fill="#ddd" opacity="1.0" filter="url(#b15)"/>
<path d="M492.00 904.60 Q492.00 902.35 494.25 902.35 Q502.50 902.35 510.75 902.35 Q513.00 902.35 513.00 904.60 Q513.00 906.85 510.75 906.85 Q502.50 906.85 494.25 906.85 Q492.00 906.85 492.00 904.60 Z" fill="url(#g16)" opacity="1.0" filter="url(#b11)"/>
<path d="M522.00 904.50 Q522.00 902.50 524.00 902.50 Q533.00 902.50 542.00 902.50 Q544.00 902.50 544.00 904.50 Q544.00 906.50 542.00 906.50 Q533.00 906.50 524.00 906.50 Q522.00 906.50 522.00 904.50 Z" fill="#e8e8e8" opacity="1.0" filter="url(#b15)"/>
<path d="M492.00 916.50 Q492.00 915.00 493.50 915.00 Q500.00 915.00 506.50 915.00 Q508.00 915.00 508.00 916.50 Q508.00 918.00 506.50 918.00 Q500.00 918.00 493.50 918.00 Q492.00 918.00 492.00 916.50 Z" fill="#eee" opacity="1.0" filter="url(#b12)"/>
<path d="M530.00 917.50 Q530.00 916.00 531.50 916.00 Q536.00 916.00 540.50 916.00 Q542.00 916.00 542.00 917.50 Q542.00 919.00 540.50 919.00 Q536.00 919.00 531.50 919.00 Q530.00 919.00 530.00 917.50 Z" fill="#eee" opacity="1.0" filter="url(#b12)"/>
<path d="M600.00 903.50 Q600.00 901.50 602.00 901.50 Q604.00 901.50 606.00 901.50 Q608.00 901.50 608.00 903.50 Q608.00 905.50 606.00 905.50 Q604.00 905.50 602.00 905.50 Q600.00 905.50 600.00 903.50 Z" fill="#ccc" opacity="1.0" filter="url(#b15)"/>
<path d="M616.00 903.00 Q616.00 898.50 620.50 898.50 Q627.50 898.50 634.50 898.50 Q639.00 898.50 639.00 903.00 Q639.00 907.50 634.50 907.50 Q627.50 907.50 620.50 907.50 Q616.00 907.50 616.00 903.00 Z" fill="url(#g17)" opacity="1.0" filter="url(#b20)"/>
<path d="M586.00 917.80 Q586.00 916.05 587.75 916.05 Q597.00 916.05 606.25 916.05 Q608.00 916.05 608.00 917.80 Q608.00 919.55 606.25 919.55 Q597.00 919.55 587.75 919.55 Q586.00 919.55 586.00 917.80 Z" fill="url(#g18)" opacity="1.0" filter="url(#b10)"/>
<path d="M615.00 917.70 Q615.00 914.95 617.75 914.95 Q628.00 914.95 638.25 914.95 Q641.00 914.95 641.00 917.70 Q641.00 920.45 638.25 920.45 Q628.00 920.45 617.75 920.45 Q615.00 920.45 615.00 917.70 Z" fill="#000" opacity="1.0" filter="url(#b10)"/>
<path d="M647.00 917.70 Q647.00 914.95 649.75 914.95 Q659.70 914.95 669.65 914.95 Q672.40 914.95 672.40 917.70 Q672.40 920.45 669.65 920.45 Q659.70 920.45 649.75 920.45 Q647.00 920.45 647.00 917.70 Z" fill="#000" opacity="1.0" filter="url(#b10)"/>
<rect x="110.00" y="951.60" width="267.80" height="28.00" fill="#fff" stroke="#000" stroke-width="1.5"/>
<path d="M121.00 963.00 Q121.00 959.00 125.00 959.00 Q135.50 959.62 146.75 960.25 Q150.00 960.25 150.00 963.50 Q150.00 966.75 146.75 966.75 Q135.50 966.88 125.00 967.00 Q121.00 967.00 121.00 963.00 Z" fill="#000" opacity="1.0" filter="url(#b9)"/>
<path d="M155.00 963.50 Q155.00 960.00 158.50 960.00 Q168.00 960.25 178.00 960.50 Q181.00 960.50 181.00 963.50 Q181.00 966.50 178.00 966.50 Q168.00 966.75 158.50 967.00 Q155.00 967.00 155.00 963.50 Z" fill="#000" opacity="1.0" filter="url(#b9)"/>
<path d="M185.00 963.50 Q185.00 960.75 187.75 960.75 Q198.00 961.75 208.25 962.75 Q211.00 962.75 211.00 965.50 Q211.00 968.25 208.25 968.25 Q198.00 967.25 187.75 966.25 Q185.00 966.25 185.00 963.50 Z" fill="#000" opacity="1.0" filter="url(#b9)"/>
<path d="M218.00 965.80 Q218.00 962.80 221.00 962.80 Q231.00 963.15 241.00 963.50 Q244.00 963.50 244.00 966.50 Q244.00 969.50 241.00 969.50 Q231.00 969.15 221.00 968.80 Q218.00 968.80 218.00 965.80 Z" fill="#000" opacity="1.0" filter="url(#b9)"/>
<path d="M248.60 966.00 Q248.60 963.00 251.60 963.00 Q261.80 963.00 272.00 963.00 Q275.00 963.00 275.00 966.00 Q275.00 969.00 272.00 969.00 Q261.80 969.00 251.60 969.00 Q248.60 969.00 248.60 966.00 Z" fill="#000" opacity="1.0" filter="url(#b9)"/>
<path d="M280.00 966.40 Q280.00 963.40 283.00 963.40 Q293.00 964.00 303.00 963.40 Q306.00 963.40 306.00 966.40 Q306.00 969.40 303.00 969.40 Q293.00 970.00 283.00 969.40 Q280.00 969.40 280.00 966.40 Z" fill="#000" opacity="1.0" filter="url(#b9)"/>
<path d="M311.00 967.00 Q311.00 964.00 314.00 964.00 Q324.20 964.00 334.40 964.00 Q337.40 964.00 337.40 967.00 Q337.40 970.00 334.40 970.00 Q324.20 970.00 314.00 970.00 Q311.00 970.00 311.00 967.00 Z" fill="#000" opacity="1.0" filter="url(#b9)"/>
<path d="M342.00 966.80 Q342.00 963.55 345.25 963.55 Q356.50 963.00 367.25 962.45 Q371.00 962.45 371.00 966.20 Q371.00 969.95 367.25 969.95 Q356.50 970.00 345.25 970.05 Q342.00 970.05 342.00 966.80 Z" fill="#000" opacity="1.0" filter="url(#b9)"/>
<rect x="414.40" y="952.40" width="266.60" height="26.60" fill="url(#gActC)" stroke="#000" stroke-width="1.5"/>
<path d="M421.00 966.00 Q421.00 963.00 424.00 963.00 Q437.50 965.00 451.00 963.00 Q454.00 963.00 454.00 966.00 Q454.00 969.00 451.00 969.00 Q437.50 971.00 424.00 969.00 Q421.00 969.00 421.00 966.00 Z" fill="#404040" opacity="1.0" filter="url(#b10)"/>
<path d="M455.00 966.50 Q455.00 963.50 458.00 963.50 Q470.00 965.25 482.00 963.00 Q485.00 963.00 485.00 966.00 Q485.00 969.00 482.00 969.00 Q470.00 971.25 458.00 969.50 Q455.00 969.50 455.00 966.50 Z" fill="#404040" opacity="1.0" filter="url(#b10)"/>
<path d="M486.00 966.50 Q486.00 963.50 489.00 963.50 Q501.00 965.25 513.00 963.00 Q516.00 963.00 516.00 966.00 Q516.00 969.00 513.00 969.00 Q501.00 971.25 489.00 969.50 Q486.00 969.50 486.00 966.50 Z" fill="#404040" opacity="1.0" filter="url(#b10)"/>
<path d="M517.00 966.70 Q517.00 963.95 519.75 963.95 Q532.00 965.85 544.25 963.75 Q547.00 963.75 547.00 966.50 Q547.00 969.25 544.25 969.25 Q532.00 971.35 519.75 969.45 Q517.00 969.45 517.00 966.70 Z" fill="#404040" opacity="1.0" filter="url(#b10)"/>
<path d="M549.00 967.00 Q549.00 964.50 551.50 964.50 Q564.00 966.50 576.50 964.50 Q579.00 964.50 579.00 967.00 Q579.00 969.50 576.50 969.50 Q564.00 971.50 551.50 969.50 Q549.00 969.50 549.00 967.00 Z" fill="#404040" opacity="1.0" filter="url(#b10)"/>
<path d="M580.40 967.30 Q580.40 964.80 582.90 964.80 Q595.20 966.40 607.50 964.00 Q610.00 964.00 610.00 966.50 Q610.00 969.00 607.50 969.00 Q595.20 971.40 582.90 969.80 Q580.40 969.80 580.40 967.30 Z" fill="#404040" opacity="1.0" filter="url(#b10)"/>
<path d="M612.00 967.00 Q612.00 964.25 614.75 964.25 Q626.50 966.00 638.25 963.75 Q641.00 963.75 641.00 966.50 Q641.00 969.25 638.25 969.25 Q626.50 971.50 614.75 969.75 Q612.00 969.75 612.00 967.00 Z" fill="#404040" opacity="1.0" filter="url(#b10)"/>
<path d="M643.00 967.00 Q643.00 964.50 645.50 964.50 Q658.50 963.60 671.00 961.50 Q674.00 961.50 674.00 964.50 Q674.00 967.50 671.00 967.50 Q658.50 969.10 645.50 969.50 Q643.00 969.50 643.00 967.00 Z" fill="url(#g19)" opacity="1.0" filter="url(#b10)"/>
<text x="24.60" y="1031.60" font-size="21.5" text-anchor="start" font-weight="bold" fill="#000" >D</text>
<text x="397.50" y="1034.20" font-size="18.6" text-anchor="middle" fill="#000" >hPSC-14</text>
<line x1="112.40" y1="1045.20" x2="680.80" y2="1045.20" stroke="#000" stroke-width="1.5"/>
<line x1="111.00" y1="1081.00" x2="239.90" y2="1081.00" stroke="#000" stroke-width="1.5"/>
<line x1="249.40" y1="1081.00" x2="378.00" y2="1081.00" stroke="#000" stroke-width="1.5"/>
<line x1="413.10" y1="1081.00" x2="542.40" y2="1081.00" stroke="#000" stroke-width="1.5"/>
<line x1="550.20" y1="1081.00" x2="679.70" y2="1081.00" stroke="#000" stroke-width="1.5"/>
<text x="176.20" y="1069.20" font-size="17" text-anchor="middle" fill="#000" >SFM</text>
<text x="313.00" y="1069.20" font-size="17" text-anchor="middle" fill="#000" >Panc-1 CM</text>
<text x="478.40" y="1069.20" font-size="17" text-anchor="middle" fill="#000" >SFM</text>
<text x="615.40" y="1069.20" font-size="17" text-anchor="middle" fill="#000" >BxPC-3 CM</text>
<text x="26.80" y="1106.60" font-size="17" text-anchor="start" fill="#000" >702 (MOI)</text>
<text x="131.70" y="1106.20" font-size="17" text-anchor="middle" fill="#000" >0</text>
<text x="162.00" y="1106.20" font-size="17" text-anchor="middle" fill="#000" >25</text>
<text x="191.60" y="1106.20" font-size="17" text-anchor="middle" fill="#000" >50</text>
<text x="224.70" y="1106.20" font-size="17" text-anchor="middle" fill="#000" >100</text>
<text x="258.70" y="1106.20" font-size="17" text-anchor="middle" fill="#000" >0</text>
<text x="289.50" y="1106.20" font-size="17" text-anchor="middle" fill="#000" >25</text>
<text x="319.60" y="1106.20" font-size="17" text-anchor="middle" fill="#000" >50</text>
<text x="351.20" y="1106.20" font-size="17" text-anchor="middle" fill="#000" >100</text>
<text x="438.40" y="1106.20" font-size="17" text-anchor="middle" fill="#000" >0</text>
<text x="468.30" y="1106.20" font-size="17" text-anchor="middle" fill="#000" >25</text>
<text x="498.00" y="1106.20" font-size="17" text-anchor="middle" fill="#000" >50</text>
<text x="531.70" y="1106.20" font-size="17" text-anchor="middle" fill="#000" >100</text>
<text x="565.40" y="1106.20" font-size="17" text-anchor="middle" fill="#000" >0</text>
<text x="595.60" y="1106.20" font-size="17" text-anchor="middle" fill="#000" >25</text>
<text x="625.70" y="1106.20" font-size="17" text-anchor="middle" fill="#000" >50</text>
<text x="658.30" y="1106.20" font-size="17" text-anchor="middle" fill="#000" >100</text>
<text x="98.20" y="1149.40" font-size="17" text-anchor="end" fill="#000" >E1A</text>
<text x="95.20" y="1187.80" font-size="14.8" text-anchor="end" fill="#000" >E1A /Actin</text>
<text x="98.00" y="1214.00" font-size="17" text-anchor="end" fill="#000" >p53</text>
<text x="95.00" y="1240.60" font-size="14.8" text-anchor="end" fill="#000" >p53 /Actin</text>
<text x="95.60" y="1260.20" font-size="16.6" text-anchor="end" fill="#000" >PARP</text>
<text x="95.60" y="1278.00" font-size="16.6" text-anchor="end" fill="#000" >C-PARP</text>
<text x="95.20" y="1300.20" font-size="14.8" text-anchor="end" fill="#000" >C-PARP /Actin</text>
<text x="97.00" y="1325.20" font-size="17" text-anchor="end" fill="#000" >β-Actin</text>
<path d="M97.00 1249.10 L110.40 1255.80 L97.00 1262.50 Z" fill="#000"/>
<path d="M97.00 1266.00 L110.40 1272.70 L97.00 1279.40 Z" fill="#000"/>
<path d="M399.80 1251.00 L412.60 1257.40 L399.80 1263.80 Z" fill="#000"/>
<path d="M399.80 1267.60 L412.60 1274.00 L399.80 1280.40 Z" fill="#000"/>
<text x="130.50" y="1187.60" font-size="14.7" text-anchor="middle" fill="#000" >1.0</text>
<text x="162.20" y="1187.60" font-size="14.7" text-anchor="middle" fill="#000" >6.5</text>
<text x="194.40" y="1187.60" font-size="14.7" text-anchor="middle" fill="#000" >15.7</text>
<text x="227.60" y="1187.60" font-size="14.7" text-anchor="middle" fill="#000" >17.7</text>
<text x="258.00" y="1187.60" font-size="14.7" text-anchor="middle" fill="#000" >2.7</text>
<text x="290.20" y="1187.60" font-size="14.7" text-anchor="middle" fill="#000" >21.6</text>
<text x="323.80" y="1187.60" font-size="14.7" text-anchor="middle" fill="#000" >23.5</text>
<text x="356.80" y="1187.60" font-size="14.7" text-anchor="middle" fill="#000" >26.0</text>
<text x="432.50" y="1187.60" font-size="14.7" text-anchor="middle" fill="#000" >1.0</text>
<text x="464.20" y="1187.60" font-size="14.7" text-anchor="middle" fill="#000" >7.8</text>
<text x="496.90" y="1187.60" font-size="14.7" text-anchor="middle" fill="#000" >8.4</text>
<text x="529.00" y="1187.60" font-size="14.7" text-anchor="middle" fill="#000" >9.6</text>
<text x="562.40" y="1187.60" font-size="14.7" text-anchor="middle" fill="#000" >2.9</text>
<text x="595.70" y="1187.60" font-size="14.7" text-anchor="middle" fill="#000" >8.3</text>
<text x="626.30" y="1187.60" font-size="14.7" text-anchor="middle" fill="#000" >7.0</text>
<text x="661.50" y="1187.60" font-size="14.7" text-anchor="middle" fill="#000" >8.1</text>
<text x="130.30" y="1240.20" font-size="14.7" text-anchor="middle" fill="#000" >1.0</text>
<text x="160.20" y="1240.20" font-size="14.7" text-anchor="middle" fill="#000" >10.9</text>
<text x="192.90" y="1240.20" font-size="14.7" text-anchor="middle" fill="#000" >11.4</text>
<text x="225.00" y="1240.20" font-size="14.7" text-anchor="middle" fill="#000" >10.9</text>
<text x="257.40" y="1240.20" font-size="14.7" text-anchor="middle" fill="#000" >1.0</text>
<text x="289.00" y="1240.20" font-size="14.7" text-anchor="middle" fill="#000" >8.8</text>
<text x="321.50" y="1240.20" font-size="14.7" text-anchor="middle" fill="#000" >7.5</text>
<text x="353.30" y="1240.20" font-size="14.7" text-anchor="middle" fill="#000" >7.2</text>
<text x="432.20" y="1240.20" font-size="14.7" text-anchor="middle" fill="#000" >1.0</text>
<text x="463.30" y="1240.20" font-size="14.7" text-anchor="middle" fill="#000" >5.6</text>
<text x="495.70" y="1240.20" font-size="14.7" text-anchor="middle" fill="#000" >6.0</text>
<text x="528.60" y="1240.20" font-size="14.7" text-anchor="middle" fill="#000" >6.6</text>
<text x="562.40" y="1240.20" font-size="14.7" text-anchor="middle" fill="#000" >0.8</text>
<text x="593.00" y="1240.20" font-size="14.7" text-anchor="middle" fill="#000" >5.1</text>
<text x="624.80" y="1240.20" font-size="14.7" text-anchor="middle" fill="#000" >4.2</text>
<text x="655.90" y="1240.20" font-size="14.7" text-anchor="middle" fill="#000" >4.8</text>
<text x="129.50" y="1299.60" font-size="14.7" text-anchor="middle" fill="#000" >1.0</text>
<text x="160.20" y="1299.60" font-size="14.7" text-anchor="middle" fill="#000" >0.9</text>
<text x="193.90" y="1299.60" font-size="14.7" text-anchor="middle" fill="#000" >2.5</text>
<text x="226.60" y="1299.60" font-size="14.7" text-anchor="middle" fill="#000" >9.6</text>
<text x="257.40" y="1299.60" font-size="14.7" text-anchor="middle" fill="#000" >1.0</text>
<text x="291.20" y="1299.60" font-size="14.7" text-anchor="middle" fill="#000" >2.6</text>
<text x="324.70" y="1299.60" font-size="14.7" text-anchor="middle" fill="#000" >9.8</text>
<text x="357.50" y="1299.60" font-size="14.7" text-anchor="middle" fill="#000" >15.5</text>
<text x="434.80" y="1299.80" font-size="14.7" text-anchor="middle" fill="#000" >1.0</text>
<text x="472.70" y="1299.80" font-size="14.7" text-anchor="middle" fill="#000" >6.5</text>
<text x="503.40" y="1299.80" font-size="14.7" text-anchor="middle" fill="#000" >9.0</text>
<text x="533.00" y="1299.80" font-size="14.7" text-anchor="middle" fill="#000" >12.5</text>
<text x="565.70" y="1299.80" font-size="14.7" text-anchor="middle" fill="#000" >11.1</text>
<text x="597.40" y="1299.80" font-size="14.7" text-anchor="middle" fill="#000" >17.6</text>
<text x="628.00" y="1299.80" font-size="14.7" text-anchor="middle" fill="#000" >16.6</text>
<text x="660.90" y="1299.80" font-size="14.7" text-anchor="middle" fill="#000" >20.0</text>
<rect x="111.60" y="1117.60" width="266.00" height="50.70" fill="url(#gE1ADL)" stroke="#000" stroke-width="1.5"/>
<g clip-path="url(#cE1ADL)">
<rect x="152.00" y="1128.00" width="24.00" height="39.00" rx="2" fill="#000" opacity="0.07" filter="url(#b15)"/>
<rect x="184.20" y="1128.00" width="23.20" height="39.00" rx="2" fill="#000" opacity="0.09" filter="url(#b15)"/>
<rect x="216.30" y="1128.00" width="23.30" height="39.00" rx="2" fill="#000" opacity="0.09" filter="url(#b15)"/>
<rect x="280.40" y="1124.00" width="23.30" height="43.00" rx="2" fill="#000" opacity="0.12" filter="url(#b15)"/>
<rect x="311.40" y="1124.00" width="23.60" height="43.00" rx="2" fill="#000" opacity="0.12" filter="url(#b15)"/>
<rect x="343.00" y="1124.00" width="25.30" height="43.00" rx="2" fill="#000" opacity="0.12" filter="url(#b15)"/>
<path d="M152.00 1133.70 Q152.00 1130.70 155.00 1130.70 Q164.00 1130.70 173.00 1130.70 Q176.00 1130.70 176.00 1133.70 Q176.00 1136.70 173.00 1136.70 Q164.00 1136.70 155.00 1136.70 Q152.00 1136.70 152.00 1133.70 Z" fill="#999" opacity="1.0" filter="url(#b12)"/>
<path d="M184.20 1133.00 Q184.20 1129.75 187.45 1129.75 Q195.80 1129.75 204.15 1129.75 Q207.40 1129.75 207.40 1133.00 Q207.40 1136.25 204.15 1136.25 Q195.80 1136.25 187.45 1136.25 Q184.20 1136.25 184.20 1133.00 Z" fill="url(#g20)" opacity="1.0" filter="url(#b11)"/>
<path d="M216.30 1132.00 Q216.30 1129.00 219.30 1129.00 Q227.95 1129.00 236.60 1129.00 Q239.60 1129.00 239.60 1132.00 Q239.60 1135.00 236.60 1135.00 Q227.95 1135.00 219.30 1135.00 Q216.30 1135.00 216.30 1132.00 Z" fill="url(#g21)" opacity="1.0" filter="url(#b11)"/>
<path d="M152.00 1149.70 Q152.00 1146.20 155.50 1146.20 Q164.00 1146.20 172.50 1146.20 Q176.00 1146.20 176.00 1149.70 Q176.00 1153.20 172.50 1153.20 Q164.00 1153.20 155.50 1153.20 Q152.00 1153.20 152.00 1149.70 Z" fill="#ccc" opacity="1.0" filter="url(#b16)"/>
<path d="M184.20 1149.70 Q184.20 1146.20 187.70 1146.20 Q195.80 1146.20 203.90 1146.20 Q207.40 1146.20 207.40 1149.70 Q207.40 1153.20 203.90 1153.20 Q195.80 1153.20 187.70 1153.20 Q184.20 1153.20 184.20 1149.70 Z" fill="#555" opacity="1.0" filter="url(#b14)"/>
<path d="M216.30 1149.70 Q216.30 1146.20 219.80 1146.20 Q227.95 1146.20 236.10 1146.20 Q239.60 1146.20 239.60 1149.70 Q239.60 1153.20 236.10 1153.20 Q227.95 1153.20 219.80 1153.20 Q216.30 1153.20 216.30 1149.70 Z" fill="#666" opacity="1.0" filter="url(#b14)"/>
<path d="M152.00 1163.50 Q152.00 1161.00 154.50 1161.00 Q164.00 1161.00 173.50 1161.00 Q176.00 1161.00 176.00 1163.50 Q176.00 1166.00 173.50 1166.00 Q164.00 1166.00 154.50 1166.00 Q152.00 1166.00 152.00 1163.50 Z" fill="#e8e8e8" opacity="1.0" filter="url(#b15)"/>
<path d="M184.20 1163.50 Q184.20 1161.00 186.70 1161.00 Q195.80 1161.00 204.90 1161.00 Q207.40 1161.00 207.40 1163.50 Q207.40 1166.00 204.90 1166.00 Q195.80 1166.00 186.70 1166.00 Q184.20 1166.00 184.20 1163.50 Z" fill="#c8c8c8" opacity="1.0" filter="url(#b15)"/>
<path d="M216.30 1163.50 Q216.30 1161.00 218.80 1161.00 Q227.95 1161.00 237.10 1161.00 Q239.60 1161.00 239.60 1163.50 Q239.60 1166.00 237.10 1166.00 Q227.95 1166.00 218.80 1166.00 Q216.30 1166.00 216.30 1163.50 Z" fill="#bbb" opacity="1.0" filter="url(#b15)"/>
<path d="M280.40 1128.50 Q280.40 1125.00 283.90 1125.00 Q292.05 1125.00 300.20 1125.00 Q303.70 1125.00 303.70 1128.50 Q303.70 1132.00 300.20 1132.00 Q292.05 1132.00 283.90 1132.00 Q280.40 1132.00 280.40 1128.50 Z" fill="#000" opacity="1.0" filter="url(#b10)"/>
<path d="M311.40 1128.00 Q311.40 1124.25 315.15 1124.25 Q323.20 1124.25 331.25 1124.25 Q335.00 1124.25 335.00 1128.00 Q335.00 1131.75 331.25 1131.75 Q323.20 1131.75 315.15 1131.75 Q311.40 1131.75 311.40 1128.00 Z" fill="#000" opacity="1.0" filter="url(#b10)"/>
<path d="M343.00 1127.60 Q343.00 1123.85 346.75 1123.85 Q355.65 1123.03 364.30 1122.20 Q368.30 1122.20 368.30 1126.20 Q368.30 1130.20 364.30 1130.20 Q355.65 1130.78 346.75 1131.35 Q343.00 1131.35 343.00 1127.60 Z" fill="#000" opacity="1.0" filter="url(#b10)"/>
<path d="M280.40 1146.50 Q280.40 1143.00 283.90 1143.00 Q292.05 1143.00 300.20 1143.00 Q303.70 1143.00 303.70 1146.50 Q303.70 1150.00 300.20 1150.00 Q292.05 1150.00 283.90 1150.00 Q280.40 1150.00 280.40 1146.50 Z" fill="#666" opacity="1.0" filter="url(#b14)"/>
<path d="M311.40 1146.50 Q311.40 1143.00 314.90 1143.00 Q323.20 1143.00 331.50 1143.00 Q335.00 1143.00 335.00 1146.50 Q335.00 1150.00 331.50 1150.00 Q323.20 1150.00 314.90 1150.00 Q311.40 1150.00 311.40 1146.50 Z" fill="#777" opacity="1.0" filter="url(#b14)"/>
<path d="M343.00 1145.80 Q343.00 1142.30 346.50 1142.30 Q355.65 1142.00 364.80 1141.70 Q368.30 1141.70 368.30 1145.20 Q368.30 1148.70 364.80 1148.70 Q355.65 1149.00 346.50 1149.30 Q343.00 1149.30 343.00 1145.80 Z" fill="url(#g22)" opacity="1.0" filter="url(#b13)"/>
<path d="M280.40 1161.80 Q280.40 1158.80 283.40 1158.80 Q292.05 1158.80 300.70 1158.80 Q303.70 1158.80 303.70 1161.80 Q303.70 1164.80 300.70 1164.80 Q292.05 1164.80 283.40 1164.80 Q280.40 1164.80 280.40 1161.80 Z" fill="#aaa" opacity="1.0" filter="url(#b16)"/>
<path d="M311.40 1161.80 Q311.40 1158.80 314.40 1158.80 Q323.20 1158.80 332.00 1158.80 Q335.00 1158.80 335.00 1161.80 Q335.00 1164.80 332.00 1164.80 Q323.20 1164.80 314.40 1164.80 Q311.40 1164.80 311.40 1161.80 Z" fill="#888" opacity="1.0" filter="url(#b16)"/>
<path d="M343.00 1161.80 Q343.00 1158.80 346.00 1158.80 Q355.65 1158.80 365.30 1158.80 Q368.30 1158.80 368.30 1161.80 Q368.30 1164.80 365.30 1164.80 Q355.65 1164.80 346.00 1164.80 Q343.00 1164.80 343.00 1161.80 Z" fill="#999" opacity="1.0" filter="url(#b16)"/>
</g>
<rect x="111.60" y="1117.60" width="266.00" height="50.70" fill="none" stroke="#000" stroke-width="1.5"/>
<rect x="412.50" y="1117.80" width="268.40" height="51.40" fill="url(#gE1AD)" stroke="#000" stroke-width="1.5"/>
<g clip-path="url(#cE1ADR)">
<rect x="453.70" y="1126.00" width="24.80" height="41.00" rx="2" fill="#000" opacity="0.12" filter="url(#b15)"/>
<rect x="487.40" y="1126.00" width="23.30" height="41.00" rx="2" fill="#000" opacity="0.12" filter="url(#b15)"/>
<rect x="518.00" y="1126.00" width="23.50" height="41.00" rx="2" fill="#000" opacity="0.12" filter="url(#b15)"/>
<rect x="582.40" y="1128.00" width="23.10" height="39.00" rx="2" fill="#000" opacity="0.08" filter="url(#b15)"/>
<rect x="613.20" y="1128.00" width="25.30" height="39.00" rx="2" fill="#000" opacity="0.08" filter="url(#b15)"/>
<rect x="647.50" y="1128.00" width="22.30" height="39.00" rx="2" fill="#000" opacity="0.08" filter="url(#b15)"/>
<path d="M453.70 1129.00 Q453.70 1126.00 456.70 1126.00 Q466.10 1126.00 475.50 1126.00 Q478.50 1126.00 478.50 1129.00 Q478.50 1132.00 475.50 1132.00 Q466.10 1132.00 456.70 1132.00 Q453.70 1132.00 453.70 1129.00 Z" fill="#222" opacity="1.0" filter="url(#b10)"/>
<path d="M487.40 1128.50 Q487.40 1125.25 490.65 1125.25 Q499.05 1125.25 507.45 1125.25 Q510.70 1125.25 510.70 1128.50 Q510.70 1131.75 507.45 1131.75 Q499.05 1131.75 490.65 1131.75 Q487.40 1131.75 487.40 1128.50 Z" fill="url(#g23)" opacity="1.0" filter="url(#b10)"/>
<path d="M518.00 1129.00 Q518.00 1126.25 520.75 1126.25 Q529.75 1126.25 538.75 1126.25 Q541.50 1126.25 541.50 1129.00 Q541.50 1131.75 538.75 1131.75 Q529.75 1131.75 520.75 1131.75 Q518.00 1131.75 518.00 1129.00 Z" fill="#000" opacity="1.0" filter="url(#b10)"/>
<path d="M453.70 1137.50 Q453.70 1135.50 455.70 1135.50 Q466.10 1135.50 476.50 1135.50 Q478.50 1135.50 478.50 1137.50 Q478.50 1139.50 476.50 1139.50 Q466.10 1139.50 455.70 1139.50 Q453.70 1139.50 453.70 1137.50 Z" fill="#ccc" opacity="1.0" filter="url(#b15)"/>
<path d="M487.40 1137.50 Q487.40 1135.50 489.40 1135.50 Q499.05 1135.50 508.70 1135.50 Q510.70 1135.50 510.70 1137.50 Q510.70 1139.50 508.70 1139.50 Q499.05 1139.50 489.40 1139.50 Q487.40 1139.50 487.40 1137.50 Z" fill="#ccc" opacity="1.0" filter="url(#b15)"/>
<path d="M518.00 1137.50 Q518.00 1135.50 520.00 1135.50 Q529.75 1135.50 539.50 1135.50 Q541.50 1135.50 541.50 1137.50 Q541.50 1139.50 539.50 1139.50 Q529.75 1139.50 520.00 1139.50 Q518.00 1139.50 518.00 1137.50 Z" fill="#ccc" opacity="1.0" filter="url(#b15)"/>
<path d="M453.70 1146.00 Q453.70 1142.50 457.20 1142.50 Q466.10 1142.50 475.00 1142.50 Q478.50 1142.50 478.50 1146.00 Q478.50 1149.50 475.00 1149.50 Q466.10 1149.50 457.20 1149.50 Q453.70 1149.50 453.70 1146.00 Z" fill="url(#g24)" opacity="1.0" filter="url(#b15)"/>
<path d="M487.40 1146.00 Q487.40 1142.50 490.90 1142.50 Q499.05 1142.50 507.20 1142.50 Q510.70 1142.50 510.70 1146.00 Q510.70 1149.50 507.20 1149.50 Q499.05 1149.50 490.90 1149.50 Q487.40 1149.50 487.40 1146.00 Z" fill="url(#g25)" opacity="1.0" filter="url(#b15)"/>
<path d="M518.00 1146.00 Q518.00 1142.50 521.50 1142.50 Q529.75 1142.50 538.00 1142.50 Q541.50 1142.50 541.50 1146.00 Q541.50 1149.50 538.00 1149.50 Q529.75 1149.50 521.50 1149.50 Q518.00 1149.50 518.00 1146.00 Z" fill="#999" opacity="1.0" filter="url(#b15)"/>
<path d="M453.70 1161.70 Q453.70 1159.20 456.20 1159.20 Q466.10 1159.20 476.00 1159.20 Q478.50 1159.20 478.50 1161.70 Q478.50 1164.20 476.00 1164.20 Q466.10 1164.20 456.20 1164.20 Q453.70 1164.20 453.70 1161.70 Z" fill="#aaa" opacity="1.0" filter="url(#b15)"/>
<path d="M487.40 1161.70 Q487.40 1159.20 489.90 1159.20 Q499.05 1159.20 508.20 1159.20 Q510.70 1159.20 510.70 1161.70 Q510.70 1164.20 508.20 1164.20 Q499.05 1164.20 489.90 1164.20 Q487.40 1164.20 487.40 1161.70 Z" fill="#b4b4b4" opacity="1.0" filter="url(#b15)"/>
<path d="M518.00 1161.70 Q518.00 1159.20 520.50 1159.20 Q529.75 1159.20 539.00 1159.20 Q541.50 1159.20 541.50 1161.70 Q541.50 1164.20 539.00 1164.20 Q529.75 1164.20 520.50 1164.20 Q518.00 1164.20 518.00 1161.70 Z" fill="#b8b8b8" opacity="1.0" filter="url(#b15)"/>
<path d="M582.40 1130.60 Q582.40 1127.35 585.65 1127.35 Q593.95 1127.35 602.25 1127.35 Q605.50 1127.35 605.50 1130.60 Q605.50 1133.85 602.25 1133.85 Q593.95 1133.85 585.65 1133.85 Q582.40 1133.85 582.40 1130.60 Z" fill="url(#g26)" opacity="1.0" filter="url(#b10)"/>
<path d="M613.20 1131.50 Q613.20 1128.00 616.70 1128.00 Q625.85 1128.00 635.00 1128.00 Q638.50 1128.00 638.50 1131.50 Q638.50 1135.00 635.00 1135.00 Q625.85 1135.00 616.70 1135.00 Q613.20 1135.00 613.20 1131.50 Z" fill="#888" opacity="1.0" filter="url(#b12)"/>
<path d="M647.50 1131.20 Q647.50 1127.20 651.50 1127.20 Q658.65 1127.20 665.80 1127.20 Q669.80 1127.20 669.80 1131.20 Q669.80 1135.20 665.80 1135.20 Q658.65 1135.20 651.50 1135.20 Q647.50 1135.20 647.50 1131.20 Z" fill="#000" opacity="1.0" filter="url(#b10)"/>
<path d="M582.40 1148.60 Q582.40 1145.60 585.40 1145.60 Q593.95 1145.60 602.50 1145.60 Q605.50 1145.60 605.50 1148.60 Q605.50 1151.60 602.50 1151.60 Q593.95 1151.60 585.40 1151.60 Q582.40 1151.60 582.40 1148.60 Z" fill="#ccc" opacity="1.0" filter="url(#b16)"/>
<path d="M613.20 1148.60 Q613.20 1145.60 616.20 1145.60 Q625.85 1145.60 635.50 1145.60 Q638.50 1145.60 638.50 1148.60 Q638.50 1151.60 635.50 1151.60 Q625.85 1151.60 616.20 1151.60 Q613.20 1151.60 613.20 1148.60 Z" fill="url(#g27)" opacity="1.0" filter="url(#b16)"/>
<path d="M647.50 1148.60 Q647.50 1145.60 650.50 1145.60 Q658.65 1145.60 666.80 1145.60 Q669.80 1145.60 669.80 1148.60 Q669.80 1151.60 666.80 1151.60 Q658.65 1151.60 650.50 1151.60 Q647.50 1151.60 647.50 1148.60 Z" fill="#bbb" opacity="1.0" filter="url(#b16)"/>
<path d="M582.40 1162.00 Q582.40 1159.00 585.40 1159.00 Q593.95 1159.00 602.50 1159.00 Q605.50 1159.00 605.50 1162.00 Q605.50 1165.00 602.50 1165.00 Q593.95 1165.00 585.40 1165.00 Q582.40 1165.00 582.40 1162.00 Z" fill="#d8d8d8" opacity="1.0" filter="url(#b16)"/>
<path d="M613.20 1162.00 Q613.20 1159.00 616.20 1159.00 Q625.85 1159.00 635.50 1159.00 Q638.50 1159.00 638.50 1162.00 Q638.50 1165.00 635.50 1165.00 Q625.85 1165.00 616.20 1165.00 Q613.20 1165.00 613.20 1162.00 Z" fill="#d8d8d8" opacity="1.0" filter="url(#b16)"/>
<path d="M647.50 1162.00 Q647.50 1159.00 650.50 1159.00 Q658.65 1159.00 666.80 1159.00 Q669.80 1159.00 669.80 1162.00 Q669.80 1165.00 666.80 1165.00 Q658.65 1165.00 650.50 1165.00 Q647.50 1165.00 647.50 1162.00 Z" fill="#d8d8d8" opacity="1.0" filter="url(#b16)"/>
</g>
<rect x="412.50" y="1117.80" width="268.40" height="51.40" fill="none" stroke="#000" stroke-width="1.5"/>
<rect x="110.40" y="1193.60" width="266.80" height="27.80" fill="#fbfbfb" stroke="#000" stroke-width="1.5"/>
<path d="M149.00 1206.20 Q149.00 1202.45 152.75 1202.45 Q161.50 1202.45 170.25 1202.45 Q174.00 1202.45 174.00 1206.20 Q174.00 1209.95 170.25 1209.95 Q161.50 1209.95 152.75 1209.95 Q149.00 1209.95 149.00 1206.20 Z" fill="#000" opacity="1.0" filter="url(#b10)"/>
<path d="M180.00 1206.50 Q180.00 1203.00 183.50 1203.00 Q193.00 1203.00 202.50 1203.00 Q206.00 1203.00 206.00 1206.50 Q206.00 1210.00 202.50 1210.00 Q193.00 1210.00 183.50 1210.00 Q180.00 1210.00 180.00 1206.50 Z" fill="#000" opacity="1.0" filter="url(#b10)"/>
<path d="M212.00 1207.00 Q212.00 1204.00 215.00 1204.00 Q225.00 1204.00 235.00 1204.00 Q238.00 1204.00 238.00 1207.00 Q238.00 1210.00 235.00 1210.00 Q225.00 1210.00 215.00 1210.00 Q212.00 1210.00 212.00 1207.00 Z" fill="#111" opacity="1.0" filter="url(#b10)"/>
<path d="M276.00 1207.00 Q276.00 1204.25 278.75 1204.25 Q289.00 1204.85 299.25 1204.25 Q302.00 1204.25 302.00 1207.00 Q302.00 1209.75 299.25 1209.75 Q289.00 1210.35 278.75 1209.75 Q276.00 1209.75 276.00 1207.00 Z" fill="#000" opacity="1.0" filter="url(#b10)"/>
<path d="M307.40 1207.00 Q307.40 1204.25 310.15 1204.25 Q320.00 1204.85 329.85 1204.25 Q332.60 1204.25 332.60 1207.00 Q332.60 1209.75 329.85 1209.75 Q320.00 1210.35 310.15 1209.75 Q307.40 1209.75 307.40 1207.00 Z" fill="#000" opacity="1.0" filter="url(#b10)"/>
<path d="M338.60 1207.00 Q338.60 1204.25 341.35 1204.25 Q352.30 1204.85 363.25 1204.25 Q366.00 1204.25 366.00 1207.00 Q366.00 1209.75 363.25 1209.75 Q352.30 1210.35 341.35 1209.75 Q338.60 1209.75 338.60 1207.00 Z" fill="#000" opacity="1.0" filter="url(#b10)"/>
<rect x="414.00" y="1193.60" width="266.40" height="28.00" fill="url(#gP53D)" stroke="#000" stroke-width="1.5"/>
<path d="M452.00 1207.20 Q452.00 1204.45 454.75 1204.45 Q464.20 1204.45 473.65 1204.45 Q476.40 1204.45 476.40 1207.20 Q476.40 1209.95 473.65 1209.95 Q464.20 1209.95 454.75 1209.95 Q452.00 1209.95 452.00 1207.20 Z" fill="#000" opacity="1.0" filter="url(#b10)"/>
<path d="M483.00 1207.70 Q483.00 1204.95 485.75 1204.95 Q495.00 1204.95 504.25 1204.95 Q507.00 1204.95 507.00 1207.70 Q507.00 1210.45 504.25 1210.45 Q495.00 1210.45 485.75 1210.45 Q483.00 1210.45 483.00 1207.70 Z" fill="#000" opacity="1.0" filter="url(#b10)"/>
<path d="M514.40 1207.50 Q514.40 1204.50 517.40 1204.50 Q527.00 1205.50 536.60 1206.50 Q539.60 1206.50 539.60 1209.50 Q539.60 1212.50 536.60 1212.50 Q527.00 1211.50 517.40 1210.50 Q514.40 1210.50 514.40 1207.50 Z" fill="#000" opacity="1.0" filter="url(#b10)"/>
<path d="M577.00 1209.30 Q577.00 1207.05 579.25 1207.05 Q589.00 1207.65 598.75 1207.05 Q601.00 1207.05 601.00 1209.30 Q601.00 1211.55 598.75 1211.55 Q589.00 1212.15 579.25 1211.55 Q577.00 1211.55 577.00 1209.30 Z" fill="#222" opacity="1.0" filter="url(#b10)"/>
<path d="M608.40 1209.80 Q608.40 1207.55 610.65 1207.55 Q620.70 1208.55 630.75 1207.55 Q633.00 1207.55 633.00 1209.80 Q633.00 1212.05 630.75 1212.05 Q620.70 1213.05 610.65 1212.05 Q608.40 1212.05 608.40 1209.80 Z" fill="#222" opacity="1.0" filter="url(#b10)"/>
<path d="M640.00 1208.80 Q640.00 1206.30 642.50 1206.30 Q652.50 1205.67 662.25 1205.05 Q665.00 1205.05 665.00 1207.80 Q665.00 1210.55 662.25 1210.55 Q652.50 1210.92 642.50 1211.30 Q640.00 1211.30 640.00 1208.80 Z" fill="#111" opacity="1.0" filter="url(#b10)"/>
<rect x="110.40" y="1246.60" width="267.00" height="32.80" fill="#fff" stroke="#000" stroke-width="1.5"/>
<path d="M116.00 1256.00 Q116.00 1254.00 118.00 1254.00 Q121.00 1254.00 124.00 1254.00 Q126.00 1254.00 126.00 1256.00 Q126.00 1258.00 124.00 1258.00 Q121.00 1258.00 118.00 1258.00 Q116.00 1258.00 116.00 1256.00 Z" fill="#eee" opacity="1.0" filter="url(#b15)"/>
<path d="M149.00 1255.50 Q149.00 1251.00 153.50 1251.00 Q161.50 1251.00 169.50 1251.00 Q174.00 1251.00 174.00 1255.50 Q174.00 1260.00 169.50 1260.00 Q161.50 1260.00 153.50 1260.00 Q149.00 1260.00 149.00 1255.50 Z" fill="#000" opacity="1.0" filter="url(#b10)"/>
<path d="M182.00 1255.50 Q182.00 1251.00 186.50 1251.00 Q194.50 1251.00 202.50 1251.00 Q207.00 1251.00 207.00 1255.50 Q207.00 1260.00 202.50 1260.00 Q194.50 1260.00 186.50 1260.00 Q182.00 1260.00 182.00 1255.50 Z" fill="#000" opacity="1.0" filter="url(#b10)"/>
<path d="M214.00 1256.30 Q214.00 1251.05 219.25 1251.05 Q227.00 1251.05 234.75 1251.05 Q240.00 1251.05 240.00 1256.30 Q240.00 1261.55 234.75 1261.55 Q227.00 1261.55 219.25 1261.55 Q214.00 1261.55 214.00 1256.30 Z" fill="#000" opacity="1.0" filter="url(#b10)"/>
<path d="M249.00 1256.50 Q249.00 1254.00 251.50 1254.00 Q259.00 1254.00 266.50 1254.00 Q269.00 1254.00 269.00 1256.50 Q269.00 1259.00 266.50 1259.00 Q259.00 1259.00 251.50 1259.00 Q249.00 1259.00 249.00 1256.50 Z" fill="#eee" opacity="1.0" filter="url(#b15)"/>
<path d="M279.00 1256.50 Q279.00 1252.00 283.50 1252.00 Q292.00 1252.00 300.50 1252.00 Q305.00 1252.00 305.00 1256.50 Q305.00 1261.00 300.50 1261.00 Q292.00 1261.00 283.50 1261.00 Q279.00 1261.00 279.00 1256.50 Z" fill="#000" opacity="1.0" filter="url(#b10)"/>
<path d="M312.00 1256.50 Q312.00 1252.25 316.25 1252.25 Q324.50 1252.25 332.75 1252.25 Q337.00 1252.25 337.00 1256.50 Q337.00 1260.75 332.75 1260.75 Q324.50 1260.75 316.25 1260.75 Q312.00 1260.75 312.00 1256.50 Z" fill="#111" opacity="1.0" filter="url(#b10)"/>
<path d="M344.00 1256.50 Q344.00 1252.50 348.00 1252.50 Q358.00 1252.50 368.00 1252.50 Q372.00 1252.50 372.00 1256.50 Q372.00 1260.50 368.00 1260.50 Q358.00 1260.50 348.00 1260.50 Q344.00 1260.50 344.00 1256.50 Z" fill="url(#g28)" opacity="1.0" filter="url(#b12)"/>
<path d="M182.00 1271.30 Q182.00 1269.80 183.50 1269.80 Q194.00 1269.80 204.50 1269.80 Q206.00 1269.80 206.00 1271.30 Q206.00 1272.80 204.50 1272.80 Q194.00 1272.80 183.50 1272.80 Q182.00 1272.80 182.00 1271.30 Z" fill="#ddd" opacity="1.0" filter="url(#b10)"/>
<path d="M215.00 1271.00 Q215.00 1269.25 216.75 1269.25 Q227.50 1269.25 238.25 1269.25 Q240.00 1269.25 240.00 1271.00 Q240.00 1272.75 238.25 1272.75 Q227.50 1272.75 216.75 1272.75 Q215.00 1272.75 215.00 1271.00 Z" fill="#888" opacity="1.0" filter="url(#b10)"/>
<path d="M281.00 1272.00 Q281.00 1270.50 282.50 1270.50 Q292.00 1270.50 301.50 1270.50 Q303.00 1270.50 303.00 1272.00 Q303.00 1273.50 301.50 1273.50 Q292.00 1273.50 282.50 1273.50 Q281.00 1273.50 281.00 1272.00 Z" fill="#ddd" opacity="1.0" filter="url(#b10)"/>
<path d="M312.00 1271.80 Q312.00 1270.05 313.75 1270.05 Q324.50 1270.05 335.25 1270.05 Q337.00 1270.05 337.00 1271.80 Q337.00 1273.55 335.25 1273.55 Q324.50 1273.55 313.75 1273.55 Q312.00 1273.55 312.00 1271.80 Z" fill="#888" opacity="1.0" filter="url(#b10)"/>
<path d="M344.00 1272.00 Q344.00 1270.00 346.00 1270.00 Q357.50 1270.00 369.00 1270.00 Q371.00 1270.00 371.00 1272.00 Q371.00 1274.00 369.00 1274.00 Q357.50 1274.00 346.00 1274.00 Q344.00 1274.00 344.00 1272.00 Z" fill="#222" opacity="1.0" filter="url(#b10)"/>
<rect x="413.6" y="1246.6" width="266.8" height="34" fill="url(#gParpD)"/>
<g clip-path="url(#cParpDR)">
<rect x="458.00" y="1249.00" width="94.00" height="33.00" rx="2" fill="#000" opacity="0.09" filter="url(#b30)"/>
<rect x="470.00" y="1250.00" width="80.00" height="16.00" rx="2" fill="#000" opacity="0.06" filter="url(#b25)"/>
<rect x="463.00" y="1256.00" width="23.00" height="20.00" rx="2" fill="#000" opacity="0.07" filter="url(#b20)"/>
<rect x="494.00" y="1256.00" width="22.00" height="20.00" rx="2" fill="#000" opacity="0.07" filter="url(#b20)"/>
<rect x="525.00" y="1256.00" width="24.00" height="20.00" rx="2" fill="#000" opacity="0.07" filter="url(#b20)"/>
<path d="M463.00 1258.00 Q463.00 1253.00 468.00 1253.00 Q474.50 1253.00 481.00 1253.00 Q486.00 1253.00 486.00 1258.00 Q486.00 1263.00 481.00 1263.00 Q474.50 1263.00 468.00 1263.00 Q463.00 1263.00 463.00 1258.00 Z" fill="#777" opacity="1.0" filter="url(#b20)"/>
<path d="M494.00 1258.00 Q494.00 1253.00 499.00 1253.00 Q505.00 1253.00 511.00 1253.00 Q516.00 1253.00 516.00 1258.00 Q516.00 1263.00 511.00 1263.00 Q505.00 1263.00 499.00 1263.00 Q494.00 1263.00 494.00 1258.00 Z" fill="#555" opacity="1.0" filter="url(#b19)"/>
<path d="M525.00 1257.50 Q525.00 1252.00 530.50 1252.00 Q537.00 1252.00 543.50 1252.00 Q549.00 1252.00 549.00 1257.50 Q549.00 1263.00 543.50 1263.00 Q537.00 1263.00 530.50 1263.00 Q525.00 1263.00 525.00 1257.50 Z" fill="#4a4a4a" opacity="1.0" filter="url(#b19)"/>
<path d="M465.00 1256.50 Q465.00 1254.00 467.50 1254.00 Q475.00 1254.00 482.50 1254.00 Q485.00 1254.00 485.00 1256.50 Q485.00 1259.00 482.50 1259.00 Q475.00 1259.00 467.50 1259.00 Q465.00 1259.00 465.00 1256.50 Z" fill="#555" opacity="0.7" filter="url(#b14)"/>
<path d="M495.00 1256.50 Q495.00 1254.00 497.50 1254.00 Q505.00 1254.00 512.50 1254.00 Q515.00 1254.00 515.00 1256.50 Q515.00 1259.00 512.50 1259.00 Q505.00 1259.00 497.50 1259.00 Q495.00 1259.00 495.00 1256.50 Z" fill="#333" opacity="0.7" filter="url(#b14)"/>
<path d="M526.00 1256.00 Q526.00 1253.25 528.75 1253.25 Q537.00 1253.25 545.25 1253.25 Q548.00 1253.25 548.00 1256.00 Q548.00 1258.75 545.25 1258.75 Q537.00 1258.75 528.75 1258.75 Q526.00 1258.75 526.00 1256.00 Z" fill="#2a2a2a" opacity="0.7" filter="url(#b14)"/>
<path d="M496.00 1272.50 Q496.00 1271.00 497.50 1271.00 Q506.00 1271.00 514.50 1271.00 Q516.00 1271.00 516.00 1272.50 Q516.00 1274.00 514.50 1274.00 Q506.00 1274.00 497.50 1274.00 Q496.00 1274.00 496.00 1272.50 Z" fill="#bbb" opacity="1.0" filter="url(#b12)"/>
<path d="M526.00 1272.50 Q526.00 1271.00 527.50 1271.00 Q536.00 1271.00 544.50 1271.00 Q546.00 1271.00 546.00 1272.50 Q546.00 1274.00 544.50 1274.00 Q536.00 1274.00 527.50 1274.00 Q526.00 1274.00 526.00 1272.50 Z" fill="#888" opacity="1.0" filter="url(#b12)"/>
<path d="M587.00 1258.00 Q587.00 1253.50 591.50 1253.50 Q597.00 1253.50 602.50 1253.50 Q607.00 1253.50 607.00 1258.00 Q607.00 1262.50 602.50 1262.50 Q597.00 1262.50 591.50 1262.50 Q587.00 1262.50 587.00 1258.00 Z" fill="#777" opacity="1.0" filter="url(#b20)"/>
<path d="M616.00 1258.00 Q616.00 1253.00 621.00 1253.00 Q628.00 1253.00 635.00 1253.00 Q640.00 1253.00 640.00 1258.00 Q640.00 1263.00 635.00 1263.00 Q628.00 1263.00 621.00 1263.00 Q616.00 1263.00 616.00 1258.00 Z" fill="#666" opacity="1.0" filter="url(#b20)"/>
<path d="M647.00 1260.00 Q647.00 1255.50 651.50 1255.50 Q660.00 1255.50 668.50 1255.50 Q673.00 1255.50 673.00 1260.00 Q673.00 1264.50 668.50 1264.50 Q660.00 1264.50 651.50 1264.50 Q647.00 1264.50 647.00 1260.00 Z" fill="#5a5a5a" opacity="1.0" filter="url(#b20)"/>
<path d="M587.00 1273.50 Q587.00 1272.00 588.50 1272.00 Q597.50 1272.00 606.50 1272.00 Q608.00 1272.00 608.00 1273.50 Q608.00 1275.00 606.50 1275.00 Q597.50 1275.00 588.50 1275.00 Q587.00 1275.00 587.00 1273.50 Z" fill="#555" opacity="1.0" filter="url(#b10)"/>
<path d="M616.00 1274.00 Q616.00 1272.25 617.75 1272.25 Q628.00 1272.25 638.25 1272.25 Q640.00 1272.25 640.00 1274.00 Q640.00 1275.75 638.25 1275.75 Q628.00 1275.75 617.75 1275.75 Q616.00 1275.75 616.00 1274.00 Z" fill="#333" opacity="1.0" filter="url(#b10)"/>
<path d="M647.00 1274.00 Q647.00 1271.75 649.25 1271.75 Q659.00 1271.75 668.75 1271.75 Q671.00 1271.75 671.00 1274.00 Q671.00 1276.25 668.75 1276.25 Q659.00 1276.25 649.25 1276.25 Q647.00 1276.25 647.00 1274.00 Z" fill="#000" opacity="1.0" filter="url(#b10)"/>
</g>
<rect x="413.60" y="1246.60" width="266.80" height="34.00" fill="none" stroke="#000" stroke-width="1.5"/>
<rect x="110.40" y="1305.60" width="267.00" height="27.80" fill="#fff" stroke="#000" stroke-width="1.5"/>
<path d="M119.00 1319.00 Q119.00 1316.00 122.00 1316.00 Q132.50 1316.00 142.50 1316.00 Q146.00 1316.00 146.00 1319.50 Q146.00 1323.00 142.50 1323.00 Q132.50 1322.50 122.00 1322.00 Q119.00 1322.00 119.00 1319.00 Z" fill="#000" opacity="1.0" filter="url(#b9)"/>
<path d="M151.00 1320.00 Q151.00 1316.50 154.50 1316.50 Q164.50 1316.25 174.00 1316.00 Q178.00 1316.00 178.00 1320.00 Q178.00 1324.00 174.00 1324.00 Q164.50 1323.75 154.50 1323.50 Q151.00 1323.50 151.00 1320.00 Z" fill="#000" opacity="1.0" filter="url(#b9)"/>
<path d="M182.00 1319.70 Q182.00 1316.20 185.50 1316.20 Q195.50 1316.20 205.50 1316.20 Q209.00 1316.20 209.00 1319.70 Q209.00 1323.20 205.50 1323.20 Q195.50 1323.20 185.50 1323.20 Q182.00 1323.20 182.00 1319.70 Z" fill="#000" opacity="1.0" filter="url(#b9)"/>
<path d="M214.00 1319.40 Q214.00 1316.40 217.00 1316.40 Q227.50 1316.40 238.00 1316.40 Q241.00 1316.40 241.00 1319.40 Q241.00 1322.40 238.00 1322.40 Q227.50 1322.40 217.00 1322.40 Q214.00 1322.40 214.00 1319.40 Z" fill="#000" opacity="1.0" filter="url(#b9)"/>
<path d="M245.00 1320.70 Q245.00 1316.95 248.75 1316.95 Q259.50 1316.95 270.25 1316.95 Q274.00 1316.95 274.00 1320.70 Q274.00 1324.45 270.25 1324.45 Q259.50 1324.45 248.75 1324.45 Q245.00 1324.45 245.00 1320.70 Z" fill="#000" opacity="1.0" filter="url(#b9)"/>
<path d="M277.00 1320.50 Q277.00 1317.00 280.50 1317.00 Q291.00 1317.00 301.50 1317.00 Q305.00 1317.00 305.00 1320.50 Q305.00 1324.00 301.50 1324.00 Q291.00 1324.00 280.50 1324.00 Q277.00 1324.00 277.00 1320.50 Z" fill="#000" opacity="1.0" filter="url(#b9)"/>
<path d="M307.40 1320.70 Q307.40 1316.95 311.15 1316.95 Q322.20 1316.95 333.25 1316.95 Q337.00 1316.95 337.00 1320.70 Q337.00 1324.45 333.25 1324.45 Q322.20 1324.45 311.15 1324.45 Q307.40 1324.45 307.40 1320.70 Z" fill="#000" opacity="1.0" filter="url(#b9)"/>
<path d="M340.00 1320.70 Q340.00 1316.45 344.25 1316.45 Q355.00 1316.70 366.25 1316.95 Q370.00 1316.95 370.00 1320.70 Q370.00 1324.45 366.25 1324.45 Q355.00 1324.70 344.25 1324.95 Q340.00 1324.95 340.00 1320.70 Z" fill="#000" opacity="1.0" filter="url(#b9)"/>
<rect x="414.00" y="1305.60" width="266.40" height="26.80" fill="url(#gActD)" stroke="#000" stroke-width="1.5"/>
<path d="M423.00 1319.80 Q423.00 1317.30 425.50 1317.30 Q436.50 1318.10 447.50 1317.30 Q450.00 1317.30 450.00 1319.80 Q450.00 1322.30 447.50 1322.30 Q436.50 1323.10 425.50 1322.30 Q423.00 1322.30 423.00 1319.80 Z" fill="#5a5a5a" opacity="1.0" filter="url(#b10)"/>
<path d="M455.00 1320.20 Q455.00 1317.95 457.25 1317.95 Q468.00 1318.75 478.75 1317.95 Q481.00 1317.95 481.00 1320.20 Q481.00 1322.45 478.75 1322.45 Q468.00 1323.25 457.25 1322.45 Q455.00 1322.45 455.00 1320.20 Z" fill="#7a7a7a" opacity="1.0" filter="url(#b10)"/>
<path d="M486.40 1320.00 Q486.40 1317.50 488.90 1317.50 Q499.20 1318.30 509.50 1317.50 Q512.00 1317.50 512.00 1320.00 Q512.00 1322.50 509.50 1322.50 Q499.20 1323.30 488.90 1322.50 Q486.40 1322.50 486.40 1320.00 Z" fill="#6a6a6a" opacity="1.0" filter="url(#b10)"/>
<path d="M517.00 1319.30 Q517.00 1317.05 519.25 1317.05 Q530.50 1317.85 541.75 1317.05 Q544.00 1317.05 544.00 1319.30 Q544.00 1321.55 541.75 1321.55 Q530.50 1322.35 519.25 1321.55 Q517.00 1321.55 517.00 1319.30 Z" fill="#7a7a7a" opacity="1.0" filter="url(#b10)"/>
<path d="M548.00 1320.00 Q548.00 1317.75 550.25 1317.75 Q561.00 1318.55 571.75 1317.75 Q574.00 1317.75 574.00 1320.00 Q574.00 1322.25 571.75 1322.25 Q561.00 1323.05 550.25 1322.25 Q548.00 1322.25 548.00 1320.00 Z" fill="#6e6e6e" opacity="1.0" filter="url(#b10)"/>
<path d="M579.00 1320.00 Q579.00 1318.00 581.00 1318.00 Q592.00 1318.20 603.00 1316.80 Q605.00 1316.80 605.00 1318.80 Q605.00 1320.80 603.00 1320.80 Q592.00 1322.20 581.00 1322.00 Q579.00 1322.00 579.00 1320.00 Z" fill="#7a7a7a" opacity="1.0" filter="url(#b10)"/>
<path d="M610.00 1320.40 Q610.00 1317.90 612.50 1317.90 Q623.50 1318.70 634.50 1317.90 Q637.00 1317.90 637.00 1320.40 Q637.00 1322.90 634.50 1322.90 Q623.50 1323.70 612.50 1322.90 Q610.00 1322.90 610.00 1320.40 Z" fill="#606060" opacity="1.0" filter="url(#b10)"/>
<path d="M641.00 1319.50 Q641.00 1317.00 643.50 1317.00 Q655.00 1317.30 666.50 1316.00 Q669.00 1316.00 669.00 1318.50 Q669.00 1321.00 666.50 1321.00 Q655.00 1322.30 643.50 1322.00 Q641.00 1322.00 641.00 1319.50 Z" fill="#5a5a5a" opacity="1.0" filter="url(#b10)"/>
</svg></body></html>
